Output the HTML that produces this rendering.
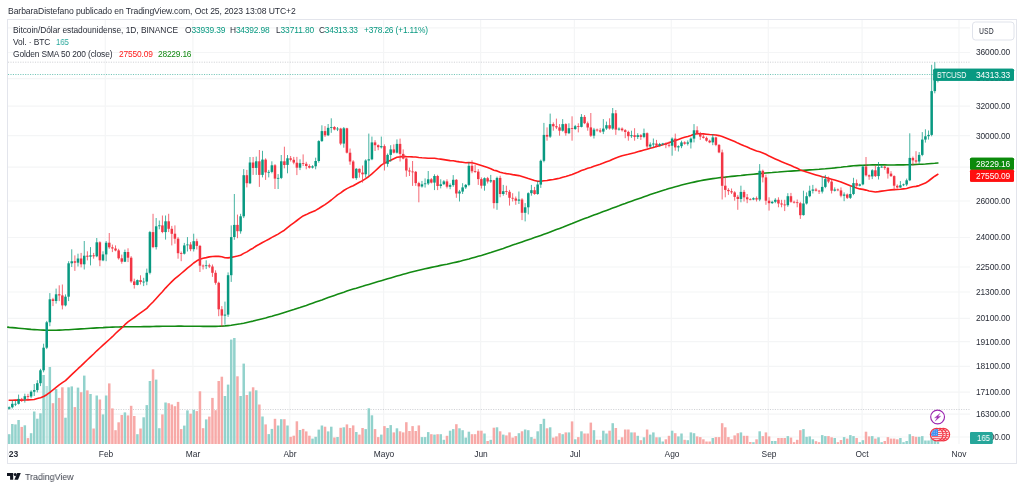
<!DOCTYPE html>
<html lang="es"><head><meta charset="utf-8"><title>BTCUSD chart</title>
<style>
html,body{margin:0;padding:0;background:#fff}
body{width:1024px;height:489px;position:relative;overflow:hidden;font-family:"Liberation Sans",sans-serif;color:#131722}
.t{position:absolute;white-space:pre;line-height:1;will-change:transform}
.ax{font-size:8.2px;color:#131722}
.w{color:#fff}
.g{color:#089981}
</style></head><body>
<svg width="1024" height="489" viewBox="0 0 1024 489" style="position:absolute;left:0;top:0">
<rect x="7.5" y="19.5" width="1009" height="444" fill="#fff" stroke="#e3e5ec" stroke-width="1"/>
<line x1="8" x2="970" y1="27.8" y2="27.8" stroke="#f4f5f6" stroke-width="1.2"/>
<line x1="8" x2="970" y1="52.5" y2="52.5" stroke="#f4f5f6" stroke-width="1.2"/>
<line x1="8" x2="970" y1="78.6" y2="78.6" stroke="#f4f5f6" stroke-width="1.2"/>
<line x1="8" x2="970" y1="106.2" y2="106.2" stroke="#f4f5f6" stroke-width="1.2"/>
<line x1="8" x2="970" y1="135.7" y2="135.7" stroke="#f4f5f6" stroke-width="1.2"/>
<line x1="8" x2="970" y1="167.2" y2="167.2" stroke="#f4f5f6" stroke-width="1.2"/>
<line x1="8" x2="970" y1="201.0" y2="201.0" stroke="#f4f5f6" stroke-width="1.2"/>
<line x1="8" x2="970" y1="237.5" y2="237.5" stroke="#f4f5f6" stroke-width="1.2"/>
<line x1="8" x2="970" y1="267.0" y2="267.0" stroke="#f4f5f6" stroke-width="1.2"/>
<line x1="8" x2="970" y1="292.0" y2="292.0" stroke="#f4f5f6" stroke-width="1.2"/>
<line x1="8" x2="970" y1="318.4" y2="318.4" stroke="#f4f5f6" stroke-width="1.2"/>
<line x1="8" x2="970" y1="341.7" y2="341.7" stroke="#f4f5f6" stroke-width="1.2"/>
<line x1="8" x2="970" y1="366.3" y2="366.3" stroke="#f4f5f6" stroke-width="1.2"/>
<line x1="8" x2="970" y1="392.2" y2="392.2" stroke="#f4f5f6" stroke-width="1.2"/>
<line x1="8" x2="970" y1="414.1" y2="414.1" stroke="#f4f5f6" stroke-width="1.2"/>
<line x1="8" x2="970" y1="437.0" y2="437.0" stroke="#f4f5f6" stroke-width="1.2"/>
<line x1="105.3" x2="105.3" y1="20" y2="444" stroke="#f4f5f6" stroke-width="1.2"/>
<line x1="192.9" x2="192.9" y1="20" y2="444" stroke="#f4f5f6" stroke-width="1.2"/>
<line x1="289.8" x2="289.8" y1="20" y2="444" stroke="#f4f5f6" stroke-width="1.2"/>
<line x1="383.6" x2="383.6" y1="20" y2="444" stroke="#f4f5f6" stroke-width="1.2"/>
<line x1="480.6" x2="480.6" y1="20" y2="444" stroke="#f4f5f6" stroke-width="1.2"/>
<line x1="574.4" x2="574.4" y1="20" y2="444" stroke="#f4f5f6" stroke-width="1.2"/>
<line x1="671.3" x2="671.3" y1="20" y2="444" stroke="#f4f5f6" stroke-width="1.2"/>
<line x1="768.3" x2="768.3" y1="20" y2="444" stroke="#f4f5f6" stroke-width="1.2"/>
<line x1="862.1" x2="862.1" y1="20" y2="444" stroke="#f4f5f6" stroke-width="1.2"/>
<line x1="959.0" x2="959.0" y1="20" y2="444" stroke="#f4f5f6" stroke-width="1.2"/>
<line x1="8" x2="970" y1="62.2" y2="62.2" stroke="#9598a1" stroke-width="0.8" stroke-dasharray="1.1 1.35" opacity="0.55"/>
<line x1="8" x2="970" y1="409.5" y2="409.5" stroke="#9598a1" stroke-width="0.8" stroke-dasharray="1.1 1.35" opacity="0.55"/>
<line x1="8" x2="970" y1="74.5" y2="74.5" stroke="#089981" stroke-width="0.8" stroke-dasharray="1.1 1.35" opacity="0.7"/>
<g>
<rect x="7.95" y="434.2" width="2.5" height="9.8" fill="#92d2cc"/>
<rect x="11.08" y="424.0" width="2.5" height="20.0" fill="#92d2cc"/>
<rect x="14.20" y="424.4" width="2.5" height="19.6" fill="#92d2cc"/>
<rect x="17.33" y="420.0" width="2.5" height="24.0" fill="#92d2cc"/>
<rect x="20.46" y="426.9" width="2.5" height="17.1" fill="#f7a9a7"/>
<rect x="23.58" y="425.3" width="2.5" height="18.7" fill="#92d2cc"/>
<rect x="26.71" y="438.1" width="2.5" height="5.9" fill="#f7a9a7"/>
<rect x="29.84" y="433.2" width="2.5" height="10.8" fill="#92d2cc"/>
<rect x="32.97" y="411.5" width="2.5" height="32.5" fill="#92d2cc"/>
<rect x="36.09" y="418.7" width="2.5" height="25.3" fill="#92d2cc"/>
<rect x="39.22" y="413.3" width="2.5" height="30.7" fill="#92d2cc"/>
<rect x="42.35" y="375.0" width="2.5" height="69.0" fill="#92d2cc"/>
<rect x="45.47" y="386.0" width="2.5" height="58.0" fill="#92d2cc" opacity="0.6"/>
<rect x="48.60" y="367.0" width="2.5" height="77.0" fill="#92d2cc"/>
<rect x="51.73" y="403.2" width="2.5" height="40.8" fill="#f7a9a7"/>
<rect x="54.85" y="389.1" width="2.5" height="54.9" fill="#92d2cc"/>
<rect x="57.98" y="397.9" width="2.5" height="46.1" fill="#f7a9a7"/>
<rect x="61.11" y="387.3" width="2.5" height="56.7" fill="#f7a9a7"/>
<rect x="64.24" y="417.7" width="2.5" height="26.3" fill="#92d2cc"/>
<rect x="67.36" y="387.3" width="2.5" height="56.7" fill="#92d2cc"/>
<rect x="70.49" y="386.4" width="2.5" height="57.6" fill="#92d2cc"/>
<rect x="73.62" y="407.1" width="2.5" height="36.9" fill="#f7a9a7"/>
<rect x="76.74" y="387.6" width="2.5" height="56.4" fill="#92d2cc"/>
<rect x="79.87" y="392.2" width="2.5" height="51.8" fill="#f7a9a7"/>
<rect x="83.00" y="375.6" width="2.5" height="68.4" fill="#92d2cc"/>
<rect x="86.12" y="390.4" width="2.5" height="53.6" fill="#f7a9a7"/>
<rect x="89.25" y="394.0" width="2.5" height="50.0" fill="#92d2cc"/>
<rect x="92.38" y="428.5" width="2.5" height="15.5" fill="#f7a9a7"/>
<rect x="95.51" y="395.5" width="2.5" height="48.5" fill="#92d2cc"/>
<rect x="98.63" y="399.5" width="2.5" height="44.5" fill="#f7a9a7"/>
<rect x="101.76" y="414.4" width="2.5" height="29.6" fill="#92d2cc"/>
<rect x="104.89" y="395.5" width="2.5" height="48.5" fill="#92d2cc"/>
<rect x="108.01" y="383.4" width="2.5" height="60.6" fill="#f7a9a7"/>
<rect x="111.14" y="408.4" width="2.5" height="35.6" fill="#f7a9a7"/>
<rect x="114.27" y="430.2" width="2.5" height="13.8" fill="#f7a9a7"/>
<rect x="117.39" y="422.3" width="2.5" height="21.7" fill="#f7a9a7"/>
<rect x="120.52" y="415.0" width="2.5" height="29.0" fill="#f7a9a7"/>
<rect x="123.65" y="412.4" width="2.5" height="31.6" fill="#92d2cc"/>
<rect x="126.78" y="415.4" width="2.5" height="28.6" fill="#f7a9a7"/>
<rect x="129.90" y="405.8" width="2.5" height="38.2" fill="#f7a9a7"/>
<rect x="133.03" y="416.0" width="2.5" height="28.0" fill="#f7a9a7"/>
<rect x="136.16" y="434.2" width="2.5" height="9.8" fill="#92d2cc"/>
<rect x="139.28" y="428.5" width="2.5" height="15.5" fill="#f7a9a7"/>
<rect x="142.41" y="417.3" width="2.5" height="26.7" fill="#92d2cc"/>
<rect x="145.54" y="405.1" width="2.5" height="38.9" fill="#92d2cc"/>
<rect x="148.66" y="381.0" width="2.5" height="63.0" fill="#92d2cc"/>
<rect x="151.79" y="369.3" width="2.5" height="74.7" fill="#f7a9a7"/>
<rect x="154.92" y="379.6" width="2.5" height="64.4" fill="#92d2cc"/>
<rect x="158.05" y="428.2" width="2.5" height="15.8" fill="#92d2cc"/>
<rect x="161.17" y="414.4" width="2.5" height="29.6" fill="#f7a9a7"/>
<rect x="164.30" y="402.5" width="2.5" height="41.5" fill="#92d2cc"/>
<rect x="167.43" y="403.2" width="2.5" height="40.8" fill="#f7a9a7"/>
<rect x="170.55" y="404.5" width="2.5" height="39.5" fill="#f7a9a7"/>
<rect x="173.68" y="406.2" width="2.5" height="37.8" fill="#f7a9a7"/>
<rect x="176.81" y="401.9" width="2.5" height="42.1" fill="#f7a9a7"/>
<rect x="179.93" y="429.1" width="2.5" height="14.9" fill="#f7a9a7"/>
<rect x="183.06" y="425.6" width="2.5" height="18.4" fill="#92d2cc"/>
<rect x="186.19" y="410.4" width="2.5" height="33.6" fill="#92d2cc"/>
<rect x="189.32" y="413.7" width="2.5" height="30.3" fill="#f7a9a7"/>
<rect x="192.44" y="409.8" width="2.5" height="34.2" fill="#92d2cc"/>
<rect x="195.57" y="411.1" width="2.5" height="32.9" fill="#f7a9a7"/>
<rect x="198.70" y="391.3" width="2.5" height="52.7" fill="#f7a9a7"/>
<rect x="201.82" y="428.2" width="2.5" height="15.8" fill="#f7a9a7"/>
<rect x="204.95" y="419.4" width="2.5" height="24.6" fill="#92d2cc"/>
<rect x="208.08" y="416.6" width="2.5" height="27.4" fill="#f7a9a7"/>
<rect x="211.20" y="397.9" width="2.5" height="46.1" fill="#f7a9a7"/>
<rect x="214.33" y="410.2" width="2.5" height="33.8" fill="#f7a9a7"/>
<rect x="217.46" y="381.0" width="2.5" height="63.0" fill="#f7a9a7"/>
<rect x="220.59" y="376.7" width="2.5" height="67.3" fill="#f7a9a7"/>
<rect x="223.71" y="396.0" width="2.5" height="48.0" fill="#92d2cc"/>
<rect x="226.84" y="384.6" width="2.5" height="59.4" fill="#92d2cc"/>
<rect x="229.97" y="339.6" width="2.5" height="104.4" fill="#92d2cc"/>
<rect x="233.09" y="338.0" width="2.5" height="106.0" fill="#92d2cc"/>
<rect x="236.22" y="376.3" width="2.5" height="67.7" fill="#f7a9a7"/>
<rect x="239.35" y="396.0" width="2.5" height="48.0" fill="#92d2cc"/>
<rect x="242.47" y="363.6" width="2.5" height="80.4" fill="#92d2cc"/>
<rect x="245.60" y="395.0" width="2.5" height="49.0" fill="#f7a9a7"/>
<rect x="248.73" y="391.5" width="2.5" height="52.5" fill="#92d2cc"/>
<rect x="251.86" y="387.3" width="2.5" height="56.7" fill="#f7a9a7"/>
<rect x="254.98" y="390.3" width="2.5" height="53.7" fill="#92d2cc"/>
<rect x="258.11" y="404.5" width="2.5" height="39.5" fill="#f7a9a7"/>
<rect x="261.24" y="416.5" width="2.5" height="27.5" fill="#92d2cc"/>
<rect x="264.36" y="424.4" width="2.5" height="19.6" fill="#f7a9a7"/>
<rect x="267.49" y="434.1" width="2.5" height="9.9" fill="#92d2cc"/>
<rect x="270.62" y="428.9" width="2.5" height="15.1" fill="#92d2cc"/>
<rect x="273.74" y="418.8" width="2.5" height="25.2" fill="#f7a9a7"/>
<rect x="276.87" y="425.5" width="2.5" height="18.5" fill="#92d2cc"/>
<rect x="280.00" y="419.2" width="2.5" height="24.8" fill="#92d2cc"/>
<rect x="283.13" y="419.2" width="2.5" height="24.8" fill="#f7a9a7"/>
<rect x="286.25" y="425.5" width="2.5" height="18.5" fill="#92d2cc"/>
<rect x="289.38" y="436.8" width="2.5" height="7.2" fill="#f7a9a7"/>
<rect x="292.51" y="435.7" width="2.5" height="8.3" fill="#f7a9a7"/>
<rect x="295.63" y="421.3" width="2.5" height="22.7" fill="#f7a9a7"/>
<rect x="298.76" y="430.0" width="2.5" height="14.0" fill="#92d2cc"/>
<rect x="301.89" y="428.9" width="2.5" height="15.1" fill="#f7a9a7"/>
<rect x="305.01" y="431.4" width="2.5" height="12.6" fill="#f7a9a7"/>
<rect x="308.14" y="435.7" width="2.5" height="8.3" fill="#f7a9a7"/>
<rect x="311.27" y="438.6" width="2.5" height="5.4" fill="#92d2cc"/>
<rect x="314.40" y="436.8" width="2.5" height="7.2" fill="#92d2cc"/>
<rect x="317.52" y="429.6" width="2.5" height="14.4" fill="#92d2cc"/>
<rect x="320.65" y="425.5" width="2.5" height="18.5" fill="#92d2cc"/>
<rect x="323.78" y="426.7" width="2.5" height="17.3" fill="#f7a9a7"/>
<rect x="326.90" y="431.4" width="2.5" height="12.6" fill="#92d2cc"/>
<rect x="330.03" y="426.7" width="2.5" height="17.3" fill="#92d2cc"/>
<rect x="333.16" y="437.5" width="2.5" height="6.5" fill="#f7a9a7"/>
<rect x="336.28" y="437.0" width="2.5" height="7.0" fill="#92d2cc"/>
<rect x="339.41" y="427.8" width="2.5" height="16.2" fill="#f7a9a7"/>
<rect x="342.54" y="427.3" width="2.5" height="16.7" fill="#92d2cc"/>
<rect x="345.67" y="424.4" width="2.5" height="19.6" fill="#f7a9a7"/>
<rect x="348.79" y="428.0" width="2.5" height="16.0" fill="#f7a9a7"/>
<rect x="351.92" y="425.4" width="2.5" height="18.6" fill="#f7a9a7"/>
<rect x="355.05" y="432.0" width="2.5" height="12.0" fill="#92d2cc"/>
<rect x="358.17" y="434.6" width="2.5" height="9.4" fill="#f7a9a7"/>
<rect x="361.30" y="428.0" width="2.5" height="16.0" fill="#f7a9a7"/>
<rect x="364.43" y="429.1" width="2.5" height="14.9" fill="#92d2cc"/>
<rect x="367.55" y="408.3" width="2.5" height="35.7" fill="#92d2cc"/>
<rect x="370.68" y="415.3" width="2.5" height="28.7" fill="#92d2cc"/>
<rect x="373.81" y="429.1" width="2.5" height="14.9" fill="#f7a9a7"/>
<rect x="376.94" y="437.1" width="2.5" height="6.9" fill="#f7a9a7"/>
<rect x="380.06" y="434.6" width="2.5" height="9.4" fill="#92d2cc"/>
<rect x="383.19" y="426.1" width="2.5" height="17.9" fill="#f7a9a7"/>
<rect x="386.32" y="428.0" width="2.5" height="16.0" fill="#92d2cc"/>
<rect x="389.44" y="425.1" width="2.5" height="18.9" fill="#92d2cc"/>
<rect x="392.57" y="432.4" width="2.5" height="11.6" fill="#f7a9a7"/>
<rect x="395.70" y="428.3" width="2.5" height="15.7" fill="#92d2cc"/>
<rect x="398.82" y="431.3" width="2.5" height="12.7" fill="#f7a9a7"/>
<rect x="401.95" y="432.4" width="2.5" height="11.6" fill="#f7a9a7"/>
<rect x="405.08" y="422.2" width="2.5" height="21.8" fill="#f7a9a7"/>
<rect x="408.21" y="431.0" width="2.5" height="13.0" fill="#f7a9a7"/>
<rect x="411.33" y="426.1" width="2.5" height="17.9" fill="#f7a9a7"/>
<rect x="414.46" y="431.0" width="2.5" height="13.0" fill="#f7a9a7"/>
<rect x="417.59" y="425.4" width="2.5" height="18.6" fill="#f7a9a7"/>
<rect x="420.71" y="437.1" width="2.5" height="6.9" fill="#92d2cc"/>
<rect x="423.84" y="437.1" width="2.5" height="6.9" fill="#92d2cc"/>
<rect x="426.97" y="432.1" width="2.5" height="11.9" fill="#92d2cc"/>
<rect x="430.09" y="434.2" width="2.5" height="9.8" fill="#f7a9a7"/>
<rect x="433.22" y="434.6" width="2.5" height="9.4" fill="#92d2cc"/>
<rect x="436.35" y="434.2" width="2.5" height="9.8" fill="#f7a9a7"/>
<rect x="439.48" y="434.2" width="2.5" height="9.8" fill="#92d2cc"/>
<rect x="442.60" y="439.8" width="2.5" height="4.2" fill="#92d2cc"/>
<rect x="445.73" y="435.8" width="2.5" height="8.2" fill="#f7a9a7"/>
<rect x="448.86" y="430.7" width="2.5" height="13.3" fill="#92d2cc"/>
<rect x="451.98" y="429.1" width="2.5" height="14.9" fill="#92d2cc"/>
<rect x="455.11" y="424.2" width="2.5" height="19.8" fill="#f7a9a7"/>
<rect x="458.24" y="428.3" width="2.5" height="15.7" fill="#92d2cc"/>
<rect x="461.36" y="430.2" width="2.5" height="13.8" fill="#92d2cc"/>
<rect x="464.49" y="437.6" width="2.5" height="6.4" fill="#92d2cc"/>
<rect x="467.62" y="431.7" width="2.5" height="12.3" fill="#92d2cc"/>
<rect x="470.75" y="434.2" width="2.5" height="9.8" fill="#f7a9a7"/>
<rect x="473.87" y="434.2" width="2.5" height="9.8" fill="#f7a9a7"/>
<rect x="477.00" y="430.7" width="2.5" height="13.3" fill="#f7a9a7"/>
<rect x="480.13" y="430.7" width="2.5" height="13.3" fill="#f7a9a7"/>
<rect x="483.25" y="433.5" width="2.5" height="10.5" fill="#92d2cc"/>
<rect x="486.38" y="441.0" width="2.5" height="3.0" fill="#f7a9a7"/>
<rect x="489.51" y="439.8" width="2.5" height="4.2" fill="#92d2cc"/>
<rect x="492.63" y="427.7" width="2.5" height="16.3" fill="#f7a9a7"/>
<rect x="495.76" y="427.3" width="2.5" height="16.7" fill="#92d2cc"/>
<rect x="498.89" y="431.3" width="2.5" height="12.7" fill="#f7a9a7"/>
<rect x="502.02" y="434.6" width="2.5" height="9.4" fill="#92d2cc"/>
<rect x="505.14" y="435.4" width="2.5" height="8.6" fill="#f7a9a7"/>
<rect x="508.27" y="432.4" width="2.5" height="11.6" fill="#f7a9a7"/>
<rect x="511.40" y="437.6" width="2.5" height="6.4" fill="#f7a9a7"/>
<rect x="514.52" y="436.1" width="2.5" height="7.9" fill="#f7a9a7"/>
<rect x="517.65" y="433.2" width="2.5" height="10.8" fill="#92d2cc"/>
<rect x="520.78" y="431.3" width="2.5" height="12.7" fill="#f7a9a7"/>
<rect x="523.90" y="429.5" width="2.5" height="14.5" fill="#92d2cc"/>
<rect x="527.03" y="430.2" width="2.5" height="13.8" fill="#92d2cc"/>
<rect x="530.16" y="437.1" width="2.5" height="6.9" fill="#92d2cc"/>
<rect x="533.29" y="438.7" width="2.5" height="5.3" fill="#f7a9a7"/>
<rect x="536.41" y="431.3" width="2.5" height="12.7" fill="#92d2cc"/>
<rect x="539.54" y="424.0" width="2.5" height="20.0" fill="#92d2cc"/>
<rect x="542.67" y="418.8" width="2.5" height="25.2" fill="#92d2cc"/>
<rect x="545.79" y="428.3" width="2.5" height="15.7" fill="#f7a9a7"/>
<rect x="548.92" y="427.3" width="2.5" height="16.7" fill="#92d2cc"/>
<rect x="552.05" y="437.6" width="2.5" height="6.4" fill="#f7a9a7"/>
<rect x="555.17" y="436.4" width="2.5" height="7.6" fill="#f7a9a7"/>
<rect x="558.30" y="433.2" width="2.5" height="10.8" fill="#f7a9a7"/>
<rect x="561.43" y="434.2" width="2.5" height="9.8" fill="#92d2cc"/>
<rect x="564.56" y="432.4" width="2.5" height="11.6" fill="#f7a9a7"/>
<rect x="567.68" y="432.4" width="2.5" height="11.6" fill="#92d2cc"/>
<rect x="570.81" y="421.4" width="2.5" height="22.6" fill="#f7a9a7"/>
<rect x="573.94" y="439.3" width="2.5" height="4.7" fill="#92d2cc"/>
<rect x="577.06" y="437.1" width="2.5" height="6.9" fill="#f7a9a7"/>
<rect x="580.19" y="431.3" width="2.5" height="12.7" fill="#92d2cc"/>
<rect x="583.32" y="433.5" width="2.5" height="10.5" fill="#f7a9a7"/>
<rect x="586.45" y="433.5" width="2.5" height="10.5" fill="#f7a9a7"/>
<rect x="589.57" y="422.6" width="2.5" height="21.4" fill="#f7a9a7"/>
<rect x="592.70" y="430.2" width="2.5" height="13.8" fill="#92d2cc"/>
<rect x="595.83" y="439.8" width="2.5" height="4.2" fill="#f7a9a7"/>
<rect x="598.95" y="439.8" width="2.5" height="4.2" fill="#f7a9a7"/>
<rect x="602.08" y="430.7" width="2.5" height="13.3" fill="#92d2cc"/>
<rect x="605.21" y="433.5" width="2.5" height="10.5" fill="#92d2cc"/>
<rect x="608.33" y="430.7" width="2.5" height="13.3" fill="#f7a9a7"/>
<rect x="611.46" y="423.2" width="2.5" height="20.8" fill="#92d2cc"/>
<rect x="614.59" y="428.0" width="2.5" height="16.0" fill="#f7a9a7"/>
<rect x="617.72" y="439.8" width="2.5" height="4.2" fill="#92d2cc"/>
<rect x="620.84" y="437.3" width="2.5" height="6.7" fill="#f7a9a7"/>
<rect x="623.97" y="429.5" width="2.5" height="14.5" fill="#f7a9a7"/>
<rect x="627.10" y="429.5" width="2.5" height="14.5" fill="#f7a9a7"/>
<rect x="630.22" y="432.4" width="2.5" height="11.6" fill="#92d2cc"/>
<rect x="633.35" y="432.4" width="2.5" height="11.6" fill="#f7a9a7"/>
<rect x="636.48" y="435.8" width="2.5" height="8.2" fill="#92d2cc"/>
<rect x="639.60" y="440.2" width="2.5" height="3.8" fill="#f7a9a7"/>
<rect x="642.73" y="437.3" width="2.5" height="6.7" fill="#92d2cc"/>
<rect x="645.86" y="429.5" width="2.5" height="14.5" fill="#f7a9a7"/>
<rect x="648.99" y="434.6" width="2.5" height="9.4" fill="#92d2cc"/>
<rect x="652.11" y="432.4" width="2.5" height="11.6" fill="#92d2cc"/>
<rect x="655.24" y="437.3" width="2.5" height="6.7" fill="#f7a9a7"/>
<rect x="658.37" y="437.3" width="2.5" height="6.7" fill="#92d2cc"/>
<rect x="661.49" y="441.5" width="2.5" height="2.5" fill="#92d2cc"/>
<rect x="664.62" y="439.3" width="2.5" height="4.7" fill="#f7a9a7"/>
<rect x="667.75" y="435.8" width="2.5" height="8.2" fill="#f7a9a7"/>
<rect x="670.87" y="430.7" width="2.5" height="13.3" fill="#92d2cc"/>
<rect x="674.00" y="433.2" width="2.5" height="10.8" fill="#f7a9a7"/>
<rect x="677.13" y="436.4" width="2.5" height="7.6" fill="#92d2cc"/>
<rect x="680.25" y="433.5" width="2.5" height="10.5" fill="#92d2cc"/>
<rect x="683.38" y="439.8" width="2.5" height="4.2" fill="#f7a9a7"/>
<rect x="686.51" y="440.2" width="2.5" height="3.8" fill="#92d2cc"/>
<rect x="689.64" y="432.4" width="2.5" height="11.6" fill="#92d2cc"/>
<rect x="692.76" y="433.2" width="2.5" height="10.8" fill="#92d2cc"/>
<rect x="695.89" y="436.4" width="2.5" height="7.6" fill="#f7a9a7"/>
<rect x="699.02" y="437.1" width="2.5" height="6.9" fill="#f7a9a7"/>
<rect x="702.14" y="439.3" width="2.5" height="4.7" fill="#f7a9a7"/>
<rect x="705.27" y="441.5" width="2.5" height="2.5" fill="#f7a9a7"/>
<rect x="708.40" y="441.5" width="2.5" height="2.5" fill="#f7a9a7"/>
<rect x="711.52" y="438.0" width="2.5" height="6.0" fill="#92d2cc"/>
<rect x="714.65" y="437.1" width="2.5" height="6.9" fill="#f7a9a7"/>
<rect x="717.78" y="437.1" width="2.5" height="6.9" fill="#f7a9a7"/>
<rect x="720.91" y="423.2" width="2.5" height="20.8" fill="#f7a9a7"/>
<rect x="724.03" y="427.3" width="2.5" height="16.7" fill="#f7a9a7"/>
<rect x="727.16" y="437.1" width="2.5" height="6.9" fill="#f7a9a7"/>
<rect x="730.29" y="439.3" width="2.5" height="4.7" fill="#f7a9a7"/>
<rect x="733.41" y="435.4" width="2.5" height="8.6" fill="#f7a9a7"/>
<rect x="736.54" y="433.2" width="2.5" height="10.8" fill="#f7a9a7"/>
<rect x="739.67" y="432.4" width="2.5" height="11.6" fill="#92d2cc"/>
<rect x="742.79" y="435.8" width="2.5" height="8.2" fill="#f7a9a7"/>
<rect x="745.92" y="435.8" width="2.5" height="8.2" fill="#f7a9a7"/>
<rect x="749.05" y="442.0" width="2.5" height="2.0" fill="#f7a9a7"/>
<rect x="752.18" y="442.2" width="2.5" height="1.8" fill="#92d2cc"/>
<rect x="755.30" y="439.3" width="2.5" height="4.7" fill="#f7a9a7"/>
<rect x="758.43" y="431.3" width="2.5" height="12.7" fill="#92d2cc"/>
<rect x="761.56" y="436.1" width="2.5" height="7.9" fill="#f7a9a7"/>
<rect x="764.68" y="432.4" width="2.5" height="11.6" fill="#f7a9a7"/>
<rect x="767.81" y="436.4" width="2.5" height="7.6" fill="#f7a9a7"/>
<rect x="770.94" y="441.0" width="2.5" height="3.0" fill="#92d2cc"/>
<rect x="774.06" y="441.0" width="2.5" height="3.0" fill="#92d2cc"/>
<rect x="777.19" y="438.0" width="2.5" height="6.0" fill="#f7a9a7"/>
<rect x="780.32" y="438.0" width="2.5" height="6.0" fill="#f7a9a7"/>
<rect x="783.45" y="438.0" width="2.5" height="6.0" fill="#f7a9a7"/>
<rect x="786.57" y="436.1" width="2.5" height="7.9" fill="#92d2cc"/>
<rect x="789.70" y="437.6" width="2.5" height="6.4" fill="#f7a9a7"/>
<rect x="792.83" y="442.2" width="2.5" height="1.8" fill="#f7a9a7"/>
<rect x="795.95" y="439.8" width="2.5" height="4.2" fill="#f7a9a7"/>
<rect x="799.08" y="430.2" width="2.5" height="13.8" fill="#f7a9a7"/>
<rect x="802.21" y="429.1" width="2.5" height="14.9" fill="#92d2cc"/>
<rect x="805.34" y="436.8" width="2.5" height="7.2" fill="#92d2cc"/>
<rect x="808.46" y="436.4" width="2.5" height="7.6" fill="#92d2cc"/>
<rect x="811.59" y="439.3" width="2.5" height="4.7" fill="#92d2cc"/>
<rect x="814.72" y="441.2" width="2.5" height="2.8" fill="#f7a9a7"/>
<rect x="817.84" y="442.2" width="2.5" height="1.8" fill="#f7a9a7"/>
<rect x="820.97" y="435.1" width="2.5" height="8.9" fill="#92d2cc"/>
<rect x="824.10" y="436.1" width="2.5" height="7.9" fill="#92d2cc"/>
<rect x="827.22" y="436.1" width="2.5" height="7.9" fill="#f7a9a7"/>
<rect x="830.35" y="437.3" width="2.5" height="6.7" fill="#f7a9a7"/>
<rect x="833.48" y="438.0" width="2.5" height="6.0" fill="#92d2cc"/>
<rect x="836.61" y="442.2" width="2.5" height="1.8" fill="#f7a9a7"/>
<rect x="839.73" y="440.0" width="2.5" height="4.0" fill="#f7a9a7"/>
<rect x="842.86" y="437.1" width="2.5" height="6.9" fill="#92d2cc"/>
<rect x="845.99" y="438.6" width="2.5" height="5.4" fill="#f7a9a7"/>
<rect x="849.11" y="435.1" width="2.5" height="8.9" fill="#92d2cc"/>
<rect x="852.24" y="436.1" width="2.5" height="7.9" fill="#92d2cc"/>
<rect x="855.37" y="438.0" width="2.5" height="6.0" fill="#f7a9a7"/>
<rect x="858.49" y="442.2" width="2.5" height="1.8" fill="#92d2cc"/>
<rect x="861.62" y="440.2" width="2.5" height="3.8" fill="#92d2cc"/>
<rect x="864.75" y="431.7" width="2.5" height="12.3" fill="#f7a9a7"/>
<rect x="867.88" y="436.4" width="2.5" height="7.6" fill="#f7a9a7"/>
<rect x="871.00" y="436.1" width="2.5" height="7.9" fill="#92d2cc"/>
<rect x="874.13" y="438.6" width="2.5" height="5.4" fill="#f7a9a7"/>
<rect x="877.26" y="437.3" width="2.5" height="6.7" fill="#92d2cc"/>
<rect x="880.38" y="442.2" width="2.5" height="1.8" fill="#92d2cc"/>
<rect x="883.51" y="441.0" width="2.5" height="3.0" fill="#f7a9a7"/>
<rect x="886.64" y="437.1" width="2.5" height="6.9" fill="#f7a9a7"/>
<rect x="889.76" y="438.6" width="2.5" height="5.4" fill="#f7a9a7"/>
<rect x="892.89" y="438.6" width="2.5" height="5.4" fill="#f7a9a7"/>
<rect x="896.02" y="439.3" width="2.5" height="4.7" fill="#f7a9a7"/>
<rect x="899.14" y="438.0" width="2.5" height="6.0" fill="#92d2cc"/>
<rect x="902.27" y="442.2" width="2.5" height="1.8" fill="#92d2cc"/>
<rect x="905.40" y="441.0" width="2.5" height="3.0" fill="#92d2cc"/>
<rect x="908.53" y="434.2" width="2.5" height="9.8" fill="#92d2cc"/>
<rect x="911.65" y="436.1" width="2.5" height="7.9" fill="#f7a9a7"/>
<rect x="914.78" y="436.8" width="2.5" height="7.2" fill="#f7a9a7"/>
<rect x="917.91" y="436.8" width="2.5" height="7.2" fill="#92d2cc"/>
<rect x="921.03" y="436.1" width="2.5" height="7.9" fill="#92d2cc"/>
<rect x="924.16" y="440.5" width="2.5" height="3.5" fill="#92d2cc"/>
<rect x="927.29" y="440.5" width="2.5" height="3.5" fill="#92d2cc"/>
<rect x="930.41" y="435.0" width="2.5" height="9.0" fill="#92d2cc"/>
<rect x="933.54" y="436.0" width="2.5" height="8.0" fill="#92d2cc"/>
<rect x="936.67" y="441.5" width="2.5" height="2.5" fill="#92d2cc"/>
</g>
<polyline points="7.8,327.1 9.2,327.4 12.3,327.6 15.5,327.9 18.6,328.2 21.7,328.5 24.8,328.8 28.0,329.1 31.1,329.4 34.2,329.6 37.3,329.8 40.5,330.0 43.6,330.1 46.7,330.2 49.9,330.2 53.0,330.2 56.1,330.2 59.2,330.1 62.4,330.0 65.5,329.8 68.6,329.7 71.7,329.5 74.9,329.3 78.0,329.1 81.1,328.9 84.2,328.7 87.4,328.5 90.5,328.3 93.6,328.1 96.8,327.9 99.9,327.7 103.0,327.6 106.1,327.4 109.3,327.3 112.4,327.1 115.5,327.0 118.6,327.0 121.8,326.9 124.9,326.8 128.0,326.8 131.2,326.7 134.3,326.7 137.4,326.7 140.5,326.7 143.7,326.6 146.8,326.6 149.9,326.6 153.0,326.5 156.2,326.4 159.3,326.4 162.4,326.3 165.5,326.3 168.7,326.2 171.8,326.2 174.9,326.2 178.1,326.1 181.2,326.1 184.3,326.2 187.4,326.2 190.6,326.2 193.7,326.3 196.8,326.3 199.9,326.3 203.1,326.4 206.2,326.4 209.3,326.4 212.5,326.4 215.6,326.4 218.7,326.3 221.8,326.1 225.0,325.9 228.1,325.6 231.2,325.3 234.3,324.8 237.5,324.3 240.6,323.8 243.7,323.2 246.9,322.5 250.0,321.8 253.1,321.1 256.2,320.3 259.4,319.5 262.5,318.7 265.6,317.9 268.7,317.0 271.9,316.2 275.0,315.3 278.1,314.4 281.2,313.5 284.4,312.5 287.5,311.5 290.6,310.6 293.8,309.6 296.9,308.5 300.0,307.5 303.1,306.4 306.3,305.4 309.4,304.3 312.5,303.2 315.6,302.1 318.8,301.0 321.9,299.9 325.0,298.7 328.2,297.6 331.3,296.5 334.4,295.4 337.5,294.3 340.7,293.2 343.8,292.2 346.9,291.1 350.0,290.1 353.2,289.1 356.3,288.2 359.4,287.2 362.6,286.3 365.7,285.3 368.8,284.4 371.9,283.5 375.1,282.5 378.2,281.6 381.3,280.7 384.4,279.8 387.6,278.8 390.7,277.9 393.8,277.0 396.9,276.1 400.1,275.2 403.2,274.3 406.3,273.5 409.5,272.6 412.6,271.8 415.7,271.0 418.8,270.2 422.0,269.5 425.1,268.8 428.2,268.1 431.3,267.4 434.5,266.7 437.6,266.1 440.7,265.4 443.9,264.8 447.0,264.2 450.1,263.5 453.2,262.8 456.4,262.1 459.5,261.4 462.6,260.6 465.7,259.8 468.9,259.0 472.0,258.1 475.1,257.2 478.2,256.3 481.4,255.4 484.5,254.4 487.6,253.4 490.8,252.5 493.9,251.4 497.0,250.4 500.1,249.4 503.3,248.4 506.4,247.3 509.5,246.2 512.6,245.1 515.8,244.1 518.9,243.0 522.0,241.9 525.2,240.8 528.3,239.7 531.4,238.7 534.5,237.6 537.7,236.5 540.8,235.4 543.9,234.3 547.0,233.2 550.2,232.0 553.3,230.8 556.4,229.6 559.6,228.4 562.7,227.2 565.8,225.9 568.9,224.7 572.1,223.5 575.2,222.2 578.3,221.0 581.4,219.8 584.6,218.6 587.7,217.5 590.8,216.3 593.9,215.1 597.1,213.9 600.2,212.8 603.3,211.6 606.5,210.4 609.6,209.3 612.7,208.1 615.8,206.9 619.0,205.8 622.1,204.6 625.2,203.5 628.3,202.3 631.5,201.2 634.6,200.1 637.7,199.0 640.9,197.9 644.0,196.8 647.1,195.7 650.2,194.6 653.4,193.6 656.5,192.6 659.6,191.5 662.7,190.5 665.9,189.6 669.0,188.6 672.1,187.7 675.3,186.8 678.4,185.9 681.5,185.1 684.6,184.3 687.8,183.5 690.9,182.8 694.0,182.1 697.1,181.4 700.3,180.7 703.4,180.1 706.5,179.6 709.6,179.1 712.8,178.6 715.9,178.2 719.0,177.8 722.2,177.4 725.3,177.1 728.4,176.7 731.5,176.4 734.7,176.1 737.8,175.8 740.9,175.5 744.0,175.1 747.2,174.8 750.3,174.5 753.4,174.2 756.6,173.9 759.7,173.6 762.8,173.3 765.9,173.0 769.1,172.7 772.2,172.5 775.3,172.2 778.4,172.0 781.6,171.7 784.7,171.5 787.8,171.3 791.0,171.1 794.1,170.9 797.2,170.7 800.3,170.5 803.5,170.3 806.6,170.1 809.7,169.9 812.8,169.7 816.0,169.5 819.1,169.3 822.2,169.0 825.3,168.8 828.5,168.5 831.6,168.2 834.7,167.9 837.9,167.5 841.0,167.2 844.1,166.8 847.2,166.5 850.4,166.1 853.5,165.8 856.6,165.6 859.7,165.4 862.9,165.2 866.0,165.1 869.1,165.0 872.3,164.9 875.4,164.9 878.5,164.9 881.6,164.9 884.8,164.9 887.9,165.0 891.0,165.0 894.1,165.0 897.3,164.9 900.4,164.9 903.5,164.9 906.6,164.8 909.8,164.7 912.9,164.6 916.0,164.5 919.2,164.3 922.3,164.2 925.4,164.0 928.5,163.7 931.7,163.5 934.8,163.3 937.9,163.0" fill="none" stroke="#138a13" stroke-width="1.6" stroke-linejoin="round" stroke-linecap="round"/>
<polyline points="9.2,400.3 12.3,400.2 15.5,400.1 18.6,400.1 21.7,400.1 24.8,400.0 28.0,399.9 31.1,399.8 34.2,399.5 37.3,398.6 40.5,397.7 43.6,396.5 46.7,394.7 49.9,392.3 53.0,389.9 56.1,387.4 59.2,384.8 62.4,382.6 65.5,380.6 68.6,377.6 71.7,374.7 74.9,371.7 78.0,368.7 81.1,365.9 84.2,362.9 87.4,359.8 90.5,356.9 93.6,354.0 96.8,350.8 99.9,348.0 103.0,345.1 106.1,342.3 109.3,339.5 112.4,336.7 115.5,333.5 118.6,330.6 121.8,327.8 124.9,324.7 128.0,321.9 131.2,319.6 134.3,317.5 137.4,315.2 140.5,312.9 143.7,310.7 146.8,308.4 149.9,305.0 153.0,302.0 156.2,298.5 159.3,295.0 162.4,291.7 165.5,288.1 168.7,284.8 171.8,281.6 174.9,278.7 178.1,276.1 181.2,273.5 184.3,270.8 187.4,268.1 190.6,265.6 193.7,263.0 196.8,260.8 199.9,259.3 203.1,258.2 206.2,257.6 209.3,256.9 212.5,256.5 215.6,256.3 218.7,256.4 221.8,256.7 225.0,257.7 228.1,257.9 231.2,257.4 234.3,256.7 237.5,256.0 240.6,255.2 243.7,253.4 246.9,251.9 250.0,249.8 253.1,248.2 256.2,246.0 259.4,244.3 262.5,242.5 265.6,240.9 268.7,239.3 271.9,237.4 275.0,235.8 278.1,234.1 281.2,232.1 284.4,230.2 287.5,227.7 290.6,225.1 293.8,222.8 296.9,220.5 300.0,218.1 303.1,215.9 306.3,214.6 309.4,213.0 312.5,211.7 315.6,210.4 318.8,208.5 321.9,206.5 325.0,204.6 328.2,202.3 331.3,200.0 334.4,197.5 337.5,194.9 340.7,192.9 343.8,190.5 346.9,188.6 350.0,187.1 353.2,185.8 356.3,184.0 359.4,182.3 362.6,180.6 365.7,178.6 368.8,176.5 371.9,173.9 375.1,171.0 378.2,168.1 381.3,165.1 384.4,163.1 387.6,161.6 390.7,160.2 393.8,158.7 396.9,157.3 400.1,156.9 403.2,156.4 406.3,156.6 409.5,156.7 412.6,156.9 415.7,157.0 418.8,157.5 422.0,157.8 425.1,158.0 428.2,158.3 431.3,158.3 434.5,158.3 437.6,158.8 440.7,159.1 443.9,159.6 447.0,160.1 450.1,160.6 453.2,160.8 456.4,161.4 459.5,161.9 462.6,162.3 465.7,162.7 468.9,162.6 472.0,162.8 475.1,163.5 478.2,164.4 481.4,165.5 484.5,166.5 487.6,167.6 490.8,168.7 493.9,170.2 497.0,170.9 500.1,172.2 503.3,173.0 506.4,173.6 509.5,174.0 512.6,174.6 515.8,175.1 518.9,175.6 522.0,176.6 525.2,177.6 528.3,178.6 531.4,179.5 534.5,180.5 537.7,181.3 540.8,181.2 543.9,180.8 547.0,180.5 550.2,179.9 553.3,179.5 556.4,178.9 559.6,178.3 562.7,177.3 565.8,176.5 568.9,175.6 572.1,174.5 575.2,173.2 578.3,172.0 581.4,170.6 584.6,169.5 587.7,168.3 590.8,167.5 593.9,166.3 597.1,165.2 600.2,164.2 603.3,163.1 606.5,161.8 609.6,160.8 612.7,159.2 615.8,157.9 619.0,156.8 622.1,155.7 625.2,155.0 628.3,154.3 631.5,153.5 634.6,152.7 637.7,151.7 640.9,150.9 644.0,150.0 647.1,149.3 650.2,148.2 653.4,147.5 656.5,146.6 659.6,145.7 662.7,144.8 665.9,143.8 669.0,142.8 672.1,141.6 675.3,140.6 678.4,139.4 681.5,138.2 684.6,137.3 687.8,136.4 690.9,135.4 694.0,134.3 697.1,133.8 700.3,133.8 703.4,133.9 706.5,134.2 709.6,134.5 712.8,134.7 715.9,135.0 719.0,135.6 722.2,136.6 725.3,137.7 728.4,138.9 731.5,140.2 734.7,141.5 737.8,143.1 740.9,144.4 744.0,145.8 747.2,147.0 750.3,148.4 753.4,149.7 756.6,151.0 759.7,151.8 762.8,152.9 765.9,154.3 769.1,156.1 772.2,157.5 775.3,158.9 778.4,160.3 781.6,161.8 784.7,163.1 787.8,164.3 791.0,165.6 794.1,167.0 797.2,168.3 800.3,169.9 803.5,171.0 806.6,172.1 809.7,173.0 812.8,173.9 816.0,174.9 819.1,175.8 822.2,176.7 825.3,177.4 828.5,178.3 831.6,179.2 834.7,180.1 837.9,181.1 841.0,182.1 844.1,183.2 847.2,184.4 850.4,185.8 853.5,186.8 856.6,187.9 859.7,188.9 862.9,189.4 866.0,190.1 869.1,191.0 872.3,191.5 875.4,192.0 878.5,191.6 881.6,191.1 884.8,190.7 887.9,190.3 891.0,189.9 894.1,189.6 897.3,189.5 900.4,189.3 903.5,188.9 906.6,188.5 909.8,187.6 912.9,186.8 916.0,186.4 919.2,185.6 922.3,184.3 925.4,183.1 928.5,181.0 931.7,178.5 934.8,176.2 937.9,174.3" fill="none" stroke="#ff1a1a" stroke-width="1.6" stroke-linejoin="round" stroke-linecap="round"/>
<g>
<line x1="9.20" x2="9.20" y1="406.4" y2="409.6" stroke="#089981" stroke-width="0.75"/>
<rect x="7.95" y="407.3" width="2.5" height="1.4" fill="#089981"/>
<line x1="12.33" x2="12.33" y1="400.5" y2="408.5" stroke="#089981" stroke-width="0.75"/>
<rect x="11.08" y="403.8" width="2.5" height="3.5" fill="#089981"/>
<line x1="15.45" x2="15.45" y1="400.9" y2="406.1" stroke="#089981" stroke-width="0.75"/>
<rect x="14.20" y="403.8" width="2.5" height="0.8" fill="#089981"/>
<line x1="18.58" x2="18.58" y1="394.6" y2="404.5" stroke="#089981" stroke-width="0.75"/>
<rect x="17.33" y="398.9" width="2.5" height="4.9" fill="#089981"/>
<line x1="21.71" x2="21.71" y1="397.9" y2="402.0" stroke="#f23645" stroke-width="0.75"/>
<rect x="20.46" y="398.9" width="2.5" height="0.8" fill="#f23645"/>
<line x1="24.83" x2="24.83" y1="393.7" y2="402.6" stroke="#089981" stroke-width="0.75"/>
<rect x="23.58" y="396.2" width="2.5" height="3.2" fill="#089981"/>
<line x1="27.96" x2="27.96" y1="393.8" y2="400.4" stroke="#f23645" stroke-width="0.75"/>
<rect x="26.71" y="396.2" width="2.5" height="0.8" fill="#f23645"/>
<line x1="31.09" x2="31.09" y1="390.3" y2="398.2" stroke="#089981" stroke-width="0.75"/>
<rect x="29.84" y="391.7" width="2.5" height="4.8" fill="#089981"/>
<line x1="34.22" x2="34.22" y1="384.0" y2="396.0" stroke="#089981" stroke-width="0.75"/>
<rect x="32.97" y="390.1" width="2.5" height="1.6" fill="#089981"/>
<line x1="37.34" x2="37.34" y1="380.2" y2="392.4" stroke="#089981" stroke-width="0.75"/>
<rect x="36.09" y="383.2" width="2.5" height="6.9" fill="#089981"/>
<line x1="40.47" x2="40.47" y1="368.8" y2="386.1" stroke="#089981" stroke-width="0.75"/>
<rect x="39.22" y="370.3" width="2.5" height="12.9" fill="#089981"/>
<line x1="43.60" x2="43.60" y1="343.7" y2="372.3" stroke="#089981" stroke-width="0.75"/>
<rect x="42.35" y="347.7" width="2.5" height="22.6" fill="#089981"/>
<line x1="46.72" x2="46.72" y1="320.9" y2="349.1" stroke="#089981" stroke-width="0.75"/>
<rect x="45.47" y="322.3" width="2.5" height="25.4" fill="#089981"/>
<line x1="49.85" x2="49.85" y1="293.1" y2="326.2" stroke="#089981" stroke-width="0.75"/>
<rect x="48.60" y="299.3" width="2.5" height="23.0" fill="#089981"/>
<line x1="52.98" x2="52.98" y1="297.8" y2="306.1" stroke="#f23645" stroke-width="0.75"/>
<rect x="51.73" y="299.3" width="2.5" height="1.7" fill="#f23645"/>
<line x1="56.10" x2="56.10" y1="288.6" y2="303.6" stroke="#089981" stroke-width="0.75"/>
<rect x="54.85" y="294.3" width="2.5" height="6.7" fill="#089981"/>
<line x1="59.23" x2="59.23" y1="285.3" y2="301.1" stroke="#f23645" stroke-width="0.75"/>
<rect x="57.98" y="294.3" width="2.5" height="1.1" fill="#f23645"/>
<line x1="62.36" x2="62.36" y1="284.5" y2="309.4" stroke="#f23645" stroke-width="0.75"/>
<rect x="61.11" y="295.4" width="2.5" height="10.0" fill="#f23645"/>
<line x1="65.49" x2="65.49" y1="294.4" y2="306.4" stroke="#089981" stroke-width="0.75"/>
<rect x="64.24" y="296.7" width="2.5" height="8.7" fill="#089981"/>
<line x1="68.61" x2="68.61" y1="261.2" y2="301.1" stroke="#089981" stroke-width="0.75"/>
<rect x="67.36" y="263.3" width="2.5" height="33.4" fill="#089981"/>
<line x1="71.74" x2="71.74" y1="249.3" y2="267.0" stroke="#089981" stroke-width="0.75"/>
<rect x="70.49" y="261.3" width="2.5" height="2.0" fill="#089981"/>
<line x1="74.87" x2="74.87" y1="255.4" y2="270.9" stroke="#f23645" stroke-width="0.75"/>
<rect x="73.62" y="261.3" width="2.5" height="1.4" fill="#f23645"/>
<line x1="77.99" x2="77.99" y1="253.7" y2="266.5" stroke="#089981" stroke-width="0.75"/>
<rect x="76.74" y="258.5" width="2.5" height="4.2" fill="#089981"/>
<line x1="81.12" x2="81.12" y1="252.9" y2="267.4" stroke="#f23645" stroke-width="0.75"/>
<rect x="79.87" y="258.5" width="2.5" height="5.8" fill="#f23645"/>
<line x1="84.25" x2="84.25" y1="241.0" y2="269.5" stroke="#089981" stroke-width="0.75"/>
<rect x="83.00" y="255.7" width="2.5" height="8.6" fill="#089981"/>
<line x1="87.38" x2="87.38" y1="251.3" y2="260.4" stroke="#f23645" stroke-width="0.75"/>
<rect x="86.12" y="255.7" width="2.5" height="1.0" fill="#f23645"/>
<line x1="90.50" x2="90.50" y1="247.1" y2="265.4" stroke="#089981" stroke-width="0.75"/>
<rect x="89.25" y="255.3" width="2.5" height="1.4" fill="#089981"/>
<line x1="93.63" x2="93.63" y1="252.9" y2="258.7" stroke="#f23645" stroke-width="0.75"/>
<rect x="92.38" y="255.3" width="2.5" height="1.0" fill="#f23645"/>
<line x1="96.76" x2="96.76" y1="238.0" y2="257.2" stroke="#089981" stroke-width="0.75"/>
<rect x="95.51" y="242.3" width="2.5" height="14.0" fill="#089981"/>
<line x1="99.88" x2="99.88" y1="241.3" y2="266.2" stroke="#f23645" stroke-width="0.75"/>
<rect x="98.63" y="242.3" width="2.5" height="18.0" fill="#f23645"/>
<line x1="103.01" x2="103.01" y1="251.3" y2="261.2" stroke="#089981" stroke-width="0.75"/>
<rect x="101.76" y="254.4" width="2.5" height="6.0" fill="#089981"/>
<line x1="106.14" x2="106.14" y1="241.0" y2="261.2" stroke="#089981" stroke-width="0.75"/>
<rect x="104.89" y="242.7" width="2.5" height="11.7" fill="#089981"/>
<line x1="109.26" x2="109.26" y1="233.0" y2="248.8" stroke="#f23645" stroke-width="0.75"/>
<rect x="108.01" y="242.7" width="2.5" height="4.6" fill="#f23645"/>
<line x1="112.39" x2="112.39" y1="244.6" y2="252.1" stroke="#f23645" stroke-width="0.75"/>
<rect x="111.14" y="247.3" width="2.5" height="1.2" fill="#f23645"/>
<line x1="115.52" x2="115.52" y1="245.4" y2="251.3" stroke="#f23645" stroke-width="0.75"/>
<rect x="114.27" y="248.5" width="2.5" height="2.0" fill="#f23645"/>
<line x1="118.64" x2="118.64" y1="248.8" y2="259.6" stroke="#f23645" stroke-width="0.75"/>
<rect x="117.39" y="250.4" width="2.5" height="7.9" fill="#f23645"/>
<line x1="121.77" x2="121.77" y1="254.6" y2="263.7" stroke="#f23645" stroke-width="0.75"/>
<rect x="120.52" y="258.3" width="2.5" height="3.4" fill="#f23645"/>
<line x1="124.90" x2="124.90" y1="249.6" y2="262.1" stroke="#089981" stroke-width="0.75"/>
<rect x="123.65" y="252.0" width="2.5" height="9.7" fill="#089981"/>
<line x1="128.03" x2="128.03" y1="248.3" y2="262.1" stroke="#f23645" stroke-width="0.75"/>
<rect x="126.78" y="252.0" width="2.5" height="5.7" fill="#f23645"/>
<line x1="131.15" x2="131.15" y1="256.2" y2="282.8" stroke="#f23645" stroke-width="0.75"/>
<rect x="129.90" y="257.7" width="2.5" height="23.7" fill="#f23645"/>
<line x1="134.28" x2="134.28" y1="278.7" y2="288.6" stroke="#f23645" stroke-width="0.75"/>
<rect x="133.03" y="281.4" width="2.5" height="3.6" fill="#f23645"/>
<line x1="137.41" x2="137.41" y1="279.5" y2="285.3" stroke="#089981" stroke-width="0.75"/>
<rect x="136.16" y="280.1" width="2.5" height="4.8" fill="#089981"/>
<line x1="140.53" x2="140.53" y1="275.3" y2="284.5" stroke="#f23645" stroke-width="0.75"/>
<rect x="139.28" y="280.1" width="2.5" height="1.9" fill="#f23645"/>
<line x1="143.66" x2="143.66" y1="277.8" y2="286.1" stroke="#089981" stroke-width="0.75"/>
<rect x="142.41" y="281.6" width="2.5" height="0.8" fill="#089981"/>
<line x1="146.79" x2="146.79" y1="268.6" y2="285.2" stroke="#089981" stroke-width="0.75"/>
<rect x="145.54" y="272.8" width="2.5" height="8.8" fill="#089981"/>
<line x1="149.91" x2="149.91" y1="230.9" y2="274.4" stroke="#089981" stroke-width="0.75"/>
<rect x="148.66" y="232.1" width="2.5" height="40.7" fill="#089981"/>
<line x1="153.04" x2="153.04" y1="213.8" y2="248.2" stroke="#f23645" stroke-width="0.75"/>
<rect x="151.79" y="232.1" width="2.5" height="15.0" fill="#f23645"/>
<line x1="156.17" x2="156.17" y1="218.0" y2="249.5" stroke="#089981" stroke-width="0.75"/>
<rect x="154.92" y="226.3" width="2.5" height="20.8" fill="#089981"/>
<line x1="159.30" x2="159.30" y1="220.5" y2="229.3" stroke="#089981" stroke-width="0.75"/>
<rect x="158.05" y="225.4" width="2.5" height="0.8" fill="#089981"/>
<line x1="162.42" x2="162.42" y1="215.5" y2="233.2" stroke="#f23645" stroke-width="0.75"/>
<rect x="161.17" y="225.4" width="2.5" height="6.6" fill="#f23645"/>
<line x1="165.55" x2="165.55" y1="215.5" y2="239.6" stroke="#089981" stroke-width="0.75"/>
<rect x="164.30" y="221.3" width="2.5" height="10.8" fill="#089981"/>
<line x1="168.68" x2="168.68" y1="213.8" y2="232.1" stroke="#f23645" stroke-width="0.75"/>
<rect x="167.43" y="221.3" width="2.5" height="7.5" fill="#f23645"/>
<line x1="171.80" x2="171.80" y1="225.9" y2="245.4" stroke="#f23645" stroke-width="0.75"/>
<rect x="170.55" y="228.8" width="2.5" height="5.0" fill="#f23645"/>
<line x1="174.93" x2="174.93" y1="225.4" y2="243.7" stroke="#f23645" stroke-width="0.75"/>
<rect x="173.68" y="233.7" width="2.5" height="5.0" fill="#f23645"/>
<line x1="178.06" x2="178.06" y1="237.1" y2="258.7" stroke="#f23645" stroke-width="0.75"/>
<rect x="176.81" y="238.7" width="2.5" height="14.5" fill="#f23645"/>
<line x1="181.18" x2="181.18" y1="251.5" y2="261.2" stroke="#f23645" stroke-width="0.75"/>
<rect x="179.93" y="253.2" width="2.5" height="0.8" fill="#f23645"/>
<line x1="184.31" x2="184.31" y1="242.9" y2="254.5" stroke="#089981" stroke-width="0.75"/>
<rect x="183.06" y="245.4" width="2.5" height="8.3" fill="#089981"/>
<line x1="187.44" x2="187.44" y1="237.1" y2="251.5" stroke="#089981" stroke-width="0.75"/>
<rect x="186.19" y="244.5" width="2.5" height="0.8" fill="#089981"/>
<line x1="190.57" x2="190.57" y1="242.1" y2="251.2" stroke="#f23645" stroke-width="0.75"/>
<rect x="189.32" y="244.5" width="2.5" height="4.7" fill="#f23645"/>
<line x1="193.69" x2="193.69" y1="233.7" y2="251.5" stroke="#089981" stroke-width="0.75"/>
<rect x="192.44" y="241.2" width="2.5" height="8.0" fill="#089981"/>
<line x1="196.82" x2="196.82" y1="238.7" y2="249.5" stroke="#f23645" stroke-width="0.75"/>
<rect x="195.57" y="241.2" width="2.5" height="4.7" fill="#f23645"/>
<line x1="199.95" x2="199.95" y1="244.9" y2="272.0" stroke="#f23645" stroke-width="0.75"/>
<rect x="198.70" y="245.9" width="2.5" height="19.8" fill="#f23645"/>
<line x1="203.07" x2="203.07" y1="264.5" y2="269.5" stroke="#f23645" stroke-width="0.75"/>
<rect x="201.82" y="265.6" width="2.5" height="0.8" fill="#f23645"/>
<line x1="206.20" x2="206.20" y1="260.3" y2="269.1" stroke="#089981" stroke-width="0.75"/>
<rect x="204.95" y="265.3" width="2.5" height="0.8" fill="#089981"/>
<line x1="209.33" x2="209.33" y1="263.6" y2="268.1" stroke="#f23645" stroke-width="0.75"/>
<rect x="208.08" y="265.3" width="2.5" height="1.2" fill="#f23645"/>
<line x1="212.45" x2="212.45" y1="264.5" y2="276.9" stroke="#f23645" stroke-width="0.75"/>
<rect x="211.20" y="266.5" width="2.5" height="6.3" fill="#f23645"/>
<line x1="215.58" x2="215.58" y1="270.3" y2="284.7" stroke="#f23645" stroke-width="0.75"/>
<rect x="214.33" y="272.8" width="2.5" height="10.0" fill="#f23645"/>
<line x1="218.71" x2="218.71" y1="281.7" y2="316.2" stroke="#f23645" stroke-width="0.75"/>
<rect x="217.46" y="282.8" width="2.5" height="26.5" fill="#f23645"/>
<line x1="221.84" x2="221.84" y1="306.1" y2="326.7" stroke="#f23645" stroke-width="0.75"/>
<rect x="220.59" y="309.3" width="2.5" height="6.3" fill="#f23645"/>
<line x1="224.96" x2="224.96" y1="301.6" y2="324.6" stroke="#089981" stroke-width="0.75"/>
<rect x="223.71" y="314.6" width="2.5" height="1.0" fill="#089981"/>
<line x1="228.09" x2="228.09" y1="272.4" y2="316.9" stroke="#089981" stroke-width="0.75"/>
<rect x="226.84" y="275.2" width="2.5" height="39.4" fill="#089981"/>
<line x1="231.22" x2="231.22" y1="225.4" y2="281.9" stroke="#089981" stroke-width="0.75"/>
<rect x="229.97" y="237.1" width="2.5" height="38.1" fill="#089981"/>
<line x1="234.34" x2="234.34" y1="194.0" y2="239.8" stroke="#089981" stroke-width="0.75"/>
<rect x="233.09" y="224.9" width="2.5" height="12.1" fill="#089981"/>
<line x1="237.47" x2="237.47" y1="214.6" y2="238.2" stroke="#f23645" stroke-width="0.75"/>
<rect x="236.22" y="224.9" width="2.5" height="6.3" fill="#f23645"/>
<line x1="240.60" x2="240.60" y1="213.8" y2="233.7" stroke="#089981" stroke-width="0.75"/>
<rect x="239.35" y="216.3" width="2.5" height="15.0" fill="#089981"/>
<line x1="243.72" x2="243.72" y1="169.1" y2="218.1" stroke="#089981" stroke-width="0.75"/>
<rect x="242.47" y="175.2" width="2.5" height="41.1" fill="#089981"/>
<line x1="246.85" x2="246.85" y1="169.9" y2="187.4" stroke="#f23645" stroke-width="0.75"/>
<rect x="245.60" y="175.2" width="2.5" height="8.0" fill="#f23645"/>
<line x1="249.98" x2="249.98" y1="157.0" y2="184.1" stroke="#089981" stroke-width="0.75"/>
<rect x="248.73" y="162.5" width="2.5" height="20.8" fill="#089981"/>
<line x1="253.11" x2="253.11" y1="157.0" y2="174.9" stroke="#f23645" stroke-width="0.75"/>
<rect x="251.86" y="162.5" width="2.5" height="5.5" fill="#f23645"/>
<line x1="256.23" x2="256.23" y1="156.6" y2="174.9" stroke="#089981" stroke-width="0.75"/>
<rect x="254.98" y="161.3" width="2.5" height="6.6" fill="#089981"/>
<line x1="259.36" x2="259.36" y1="150.0" y2="186.9" stroke="#f23645" stroke-width="0.75"/>
<rect x="258.11" y="161.3" width="2.5" height="13.6" fill="#f23645"/>
<line x1="262.49" x2="262.49" y1="150.8" y2="177.4" stroke="#089981" stroke-width="0.75"/>
<rect x="261.24" y="159.6" width="2.5" height="15.3" fill="#089981"/>
<line x1="265.61" x2="265.61" y1="158.3" y2="179.9" stroke="#f23645" stroke-width="0.75"/>
<rect x="264.36" y="159.6" width="2.5" height="12.8" fill="#f23645"/>
<line x1="268.74" x2="268.74" y1="169.9" y2="177.4" stroke="#089981" stroke-width="0.75"/>
<rect x="267.49" y="171.9" width="2.5" height="0.8" fill="#089981"/>
<line x1="271.87" x2="271.87" y1="161.3" y2="173.3" stroke="#089981" stroke-width="0.75"/>
<rect x="270.62" y="165.3" width="2.5" height="6.6" fill="#089981"/>
<line x1="274.99" x2="274.99" y1="164.1" y2="189.0" stroke="#f23645" stroke-width="0.75"/>
<rect x="273.74" y="165.3" width="2.5" height="13.3" fill="#f23645"/>
<line x1="278.12" x2="278.12" y1="174.1" y2="189.0" stroke="#089981" stroke-width="0.75"/>
<rect x="276.87" y="177.9" width="2.5" height="0.8" fill="#089981"/>
<line x1="281.25" x2="281.25" y1="155.0" y2="179.1" stroke="#089981" stroke-width="0.75"/>
<rect x="280.00" y="161.3" width="2.5" height="16.6" fill="#089981"/>
<line x1="284.38" x2="284.38" y1="146.7" y2="168.3" stroke="#f23645" stroke-width="0.75"/>
<rect x="283.13" y="161.3" width="2.5" height="3.7" fill="#f23645"/>
<line x1="287.50" x2="287.50" y1="155.0" y2="173.3" stroke="#089981" stroke-width="0.75"/>
<rect x="286.25" y="158.3" width="2.5" height="6.6" fill="#089981"/>
<line x1="290.63" x2="290.63" y1="156.0" y2="161.5" stroke="#f23645" stroke-width="0.75"/>
<rect x="289.38" y="158.3" width="2.5" height="1.5" fill="#f23645"/>
<line x1="293.76" x2="293.76" y1="156.9" y2="164.3" stroke="#f23645" stroke-width="0.75"/>
<rect x="292.51" y="159.8" width="2.5" height="2.8" fill="#f23645"/>
<line x1="296.88" x2="296.88" y1="156.9" y2="175.1" stroke="#f23645" stroke-width="0.75"/>
<rect x="295.63" y="162.7" width="2.5" height="5.0" fill="#f23645"/>
<line x1="300.01" x2="300.01" y1="159.3" y2="170.1" stroke="#089981" stroke-width="0.75"/>
<rect x="298.76" y="163.2" width="2.5" height="4.5" fill="#089981"/>
<line x1="303.14" x2="303.14" y1="154.4" y2="166.0" stroke="#f23645" stroke-width="0.75"/>
<rect x="301.89" y="163.2" width="2.5" height="0.8" fill="#f23645"/>
<line x1="306.26" x2="306.26" y1="161.8" y2="169.3" stroke="#f23645" stroke-width="0.75"/>
<rect x="305.01" y="163.8" width="2.5" height="2.2" fill="#f23645"/>
<line x1="309.39" x2="309.39" y1="164.3" y2="168.5" stroke="#f23645" stroke-width="0.75"/>
<rect x="308.14" y="166.0" width="2.5" height="1.7" fill="#f23645"/>
<line x1="312.52" x2="312.52" y1="165.2" y2="168.5" stroke="#089981" stroke-width="0.75"/>
<rect x="311.27" y="166.3" width="2.5" height="1.3" fill="#089981"/>
<line x1="315.65" x2="315.65" y1="157.7" y2="169.3" stroke="#089981" stroke-width="0.75"/>
<rect x="314.40" y="161.0" width="2.5" height="5.3" fill="#089981"/>
<line x1="318.77" x2="318.77" y1="140.2" y2="162.7" stroke="#089981" stroke-width="0.75"/>
<rect x="317.52" y="141.1" width="2.5" height="19.9" fill="#089981"/>
<line x1="321.90" x2="321.90" y1="125.3" y2="141.9" stroke="#089981" stroke-width="0.75"/>
<rect x="320.65" y="131.1" width="2.5" height="10.0" fill="#089981"/>
<line x1="325.03" x2="325.03" y1="126.1" y2="136.9" stroke="#f23645" stroke-width="0.75"/>
<rect x="323.78" y="131.1" width="2.5" height="4.2" fill="#f23645"/>
<line x1="328.15" x2="328.15" y1="124.0" y2="136.1" stroke="#089981" stroke-width="0.75"/>
<rect x="326.90" y="127.8" width="2.5" height="7.5" fill="#089981"/>
<line x1="331.28" x2="331.28" y1="118.3" y2="132.8" stroke="#089981" stroke-width="0.75"/>
<rect x="330.03" y="127.0" width="2.5" height="0.8" fill="#089981"/>
<line x1="334.41" x2="334.41" y1="126.1" y2="130.3" stroke="#f23645" stroke-width="0.75"/>
<rect x="333.16" y="127.0" width="2.5" height="2.5" fill="#f23645"/>
<line x1="337.53" x2="337.53" y1="127.0" y2="131.1" stroke="#089981" stroke-width="0.75"/>
<rect x="336.28" y="128.6" width="2.5" height="0.8" fill="#089981"/>
<line x1="340.66" x2="340.66" y1="127.8" y2="145.2" stroke="#f23645" stroke-width="0.75"/>
<rect x="339.41" y="128.6" width="2.5" height="15.0" fill="#f23645"/>
<line x1="343.79" x2="343.79" y1="127.0" y2="147.7" stroke="#089981" stroke-width="0.75"/>
<rect x="342.54" y="128.3" width="2.5" height="15.3" fill="#089981"/>
<line x1="346.92" x2="346.92" y1="127.8" y2="153.5" stroke="#f23645" stroke-width="0.75"/>
<rect x="345.67" y="128.3" width="2.5" height="24.4" fill="#f23645"/>
<line x1="350.04" x2="350.04" y1="148.5" y2="164.8" stroke="#f23645" stroke-width="0.75"/>
<rect x="348.79" y="152.7" width="2.5" height="8.8" fill="#f23645"/>
<line x1="353.17" x2="353.17" y1="160.2" y2="178.8" stroke="#f23645" stroke-width="0.75"/>
<rect x="351.92" y="161.5" width="2.5" height="16.6" fill="#f23645"/>
<line x1="356.30" x2="356.30" y1="168.1" y2="179.8" stroke="#089981" stroke-width="0.75"/>
<rect x="355.05" y="168.8" width="2.5" height="9.3" fill="#089981"/>
<line x1="359.42" x2="359.42" y1="168.5" y2="177.6" stroke="#f23645" stroke-width="0.75"/>
<rect x="358.17" y="168.8" width="2.5" height="3.8" fill="#f23645"/>
<line x1="362.55" x2="362.55" y1="165.5" y2="182.6" stroke="#f23645" stroke-width="0.75"/>
<rect x="361.30" y="172.6" width="2.5" height="1.7" fill="#f23645"/>
<line x1="365.68" x2="365.68" y1="159.3" y2="177.6" stroke="#089981" stroke-width="0.75"/>
<rect x="364.43" y="160.5" width="2.5" height="13.8" fill="#089981"/>
<line x1="368.80" x2="368.80" y1="133.6" y2="176.0" stroke="#089981" stroke-width="0.75"/>
<rect x="367.55" y="159.3" width="2.5" height="1.2" fill="#089981"/>
<line x1="371.93" x2="371.93" y1="136.6" y2="160.2" stroke="#089981" stroke-width="0.75"/>
<rect x="370.68" y="142.4" width="2.5" height="16.9" fill="#089981"/>
<line x1="375.06" x2="375.06" y1="140.2" y2="151.0" stroke="#f23645" stroke-width="0.75"/>
<rect x="373.81" y="142.4" width="2.5" height="2.8" fill="#f23645"/>
<line x1="378.19" x2="378.19" y1="144.4" y2="150.2" stroke="#f23645" stroke-width="0.75"/>
<rect x="376.94" y="145.2" width="2.5" height="2.0" fill="#f23645"/>
<line x1="381.31" x2="381.31" y1="136.6" y2="148.5" stroke="#089981" stroke-width="0.75"/>
<rect x="380.06" y="146.1" width="2.5" height="1.2" fill="#089981"/>
<line x1="384.44" x2="384.44" y1="144.4" y2="170.5" stroke="#f23645" stroke-width="0.75"/>
<rect x="383.19" y="146.1" width="2.5" height="17.8" fill="#f23645"/>
<line x1="387.57" x2="387.57" y1="153.5" y2="166.8" stroke="#089981" stroke-width="0.75"/>
<rect x="386.32" y="154.9" width="2.5" height="9.0" fill="#089981"/>
<line x1="390.69" x2="390.69" y1="145.2" y2="161.8" stroke="#089981" stroke-width="0.75"/>
<rect x="389.44" y="149.4" width="2.5" height="5.5" fill="#089981"/>
<line x1="393.82" x2="393.82" y1="144.4" y2="153.5" stroke="#f23645" stroke-width="0.75"/>
<rect x="392.57" y="149.4" width="2.5" height="3.3" fill="#f23645"/>
<line x1="396.95" x2="396.95" y1="139.4" y2="153.5" stroke="#089981" stroke-width="0.75"/>
<rect x="395.70" y="143.9" width="2.5" height="8.8" fill="#089981"/>
<line x1="400.07" x2="400.07" y1="138.6" y2="161.5" stroke="#f23645" stroke-width="0.75"/>
<rect x="398.82" y="143.9" width="2.5" height="10.0" fill="#f23645"/>
<line x1="403.20" x2="403.20" y1="149.4" y2="159.3" stroke="#f23645" stroke-width="0.75"/>
<rect x="401.95" y="153.9" width="2.5" height="4.7" fill="#f23645"/>
<line x1="406.33" x2="406.33" y1="157.7" y2="176.8" stroke="#f23645" stroke-width="0.75"/>
<rect x="405.08" y="158.5" width="2.5" height="12.0" fill="#f23645"/>
<line x1="409.46" x2="409.46" y1="167.6" y2="176.0" stroke="#f23645" stroke-width="0.75"/>
<rect x="408.21" y="170.5" width="2.5" height="1.0" fill="#f23645"/>
<line x1="412.58" x2="412.58" y1="161.0" y2="185.9" stroke="#f23645" stroke-width="0.75"/>
<rect x="411.33" y="171.5" width="2.5" height="0.8" fill="#f23645"/>
<line x1="415.71" x2="415.71" y1="171.0" y2="185.9" stroke="#f23645" stroke-width="0.75"/>
<rect x="414.46" y="171.8" width="2.5" height="11.3" fill="#f23645"/>
<line x1="418.84" x2="418.84" y1="181.8" y2="202.3" stroke="#f23645" stroke-width="0.75"/>
<rect x="417.59" y="183.1" width="2.5" height="3.3" fill="#f23645"/>
<line x1="421.96" x2="421.96" y1="180.9" y2="187.6" stroke="#089981" stroke-width="0.75"/>
<rect x="420.71" y="184.3" width="2.5" height="2.2" fill="#089981"/>
<line x1="425.09" x2="425.09" y1="178.4" y2="187.6" stroke="#089981" stroke-width="0.75"/>
<rect x="423.84" y="183.4" width="2.5" height="0.8" fill="#089981"/>
<line x1="428.22" x2="428.22" y1="171.0" y2="185.1" stroke="#089981" stroke-width="0.75"/>
<rect x="426.97" y="179.3" width="2.5" height="4.2" fill="#089981"/>
<line x1="431.34" x2="431.34" y1="178.1" y2="183.4" stroke="#f23645" stroke-width="0.75"/>
<rect x="430.09" y="179.3" width="2.5" height="3.3" fill="#f23645"/>
<line x1="434.47" x2="434.47" y1="174.3" y2="190.1" stroke="#089981" stroke-width="0.75"/>
<rect x="433.22" y="176.0" width="2.5" height="6.6" fill="#089981"/>
<line x1="437.60" x2="437.60" y1="174.8" y2="190.1" stroke="#f23645" stroke-width="0.75"/>
<rect x="436.35" y="176.0" width="2.5" height="10.0" fill="#f23645"/>
<line x1="440.73" x2="440.73" y1="179.3" y2="188.4" stroke="#089981" stroke-width="0.75"/>
<rect x="439.48" y="184.3" width="2.5" height="1.7" fill="#089981"/>
<line x1="443.85" x2="443.85" y1="180.1" y2="185.1" stroke="#089981" stroke-width="0.75"/>
<rect x="442.60" y="181.4" width="2.5" height="2.8" fill="#089981"/>
<line x1="446.98" x2="446.98" y1="179.3" y2="188.4" stroke="#f23645" stroke-width="0.75"/>
<rect x="445.73" y="181.4" width="2.5" height="5.3" fill="#f23645"/>
<line x1="450.11" x2="450.11" y1="183.4" y2="189.2" stroke="#089981" stroke-width="0.75"/>
<rect x="448.86" y="185.1" width="2.5" height="1.7" fill="#089981"/>
<line x1="453.23" x2="453.23" y1="175.1" y2="186.8" stroke="#089981" stroke-width="0.75"/>
<rect x="451.98" y="179.8" width="2.5" height="5.3" fill="#089981"/>
<line x1="456.36" x2="456.36" y1="179.1" y2="197.8" stroke="#f23645" stroke-width="0.75"/>
<rect x="455.11" y="179.8" width="2.5" height="13.7" fill="#f23645"/>
<line x1="459.49" x2="459.49" y1="189.9" y2="201.5" stroke="#089981" stroke-width="0.75"/>
<rect x="458.24" y="191.5" width="2.5" height="2.0" fill="#089981"/>
<line x1="462.61" x2="462.61" y1="183.2" y2="194.0" stroke="#089981" stroke-width="0.75"/>
<rect x="461.36" y="187.4" width="2.5" height="4.2" fill="#089981"/>
<line x1="465.74" x2="465.74" y1="184.0" y2="189.0" stroke="#089981" stroke-width="0.75"/>
<rect x="464.49" y="184.9" width="2.5" height="2.5" fill="#089981"/>
<line x1="468.87" x2="468.87" y1="162.4" y2="186.2" stroke="#089981" stroke-width="0.75"/>
<rect x="467.62" y="165.8" width="2.5" height="19.1" fill="#089981"/>
<line x1="472.00" x2="472.00" y1="160.3" y2="173.2" stroke="#f23645" stroke-width="0.75"/>
<rect x="470.75" y="165.8" width="2.5" height="5.5" fill="#f23645"/>
<line x1="475.12" x2="475.12" y1="164.9" y2="172.9" stroke="#f23645" stroke-width="0.75"/>
<rect x="473.87" y="171.2" width="2.5" height="0.8" fill="#f23645"/>
<line x1="478.25" x2="478.25" y1="169.1" y2="184.9" stroke="#f23645" stroke-width="0.75"/>
<rect x="477.00" y="171.6" width="2.5" height="7.5" fill="#f23645"/>
<line x1="481.38" x2="481.38" y1="177.4" y2="188.5" stroke="#f23645" stroke-width="0.75"/>
<rect x="480.13" y="179.1" width="2.5" height="6.6" fill="#f23645"/>
<line x1="484.50" x2="484.50" y1="177.4" y2="190.7" stroke="#089981" stroke-width="0.75"/>
<rect x="483.25" y="178.2" width="2.5" height="7.5" fill="#089981"/>
<line x1="487.63" x2="487.63" y1="176.9" y2="183.5" stroke="#f23645" stroke-width="0.75"/>
<rect x="486.38" y="178.2" width="2.5" height="3.3" fill="#f23645"/>
<line x1="490.76" x2="490.76" y1="174.9" y2="182.9" stroke="#089981" stroke-width="0.75"/>
<rect x="489.51" y="180.2" width="2.5" height="1.3" fill="#089981"/>
<line x1="493.88" x2="493.88" y1="179.9" y2="208.5" stroke="#f23645" stroke-width="0.75"/>
<rect x="492.63" y="180.2" width="2.5" height="22.9" fill="#f23645"/>
<line x1="497.01" x2="497.01" y1="176.6" y2="209.8" stroke="#089981" stroke-width="0.75"/>
<rect x="495.76" y="177.9" width="2.5" height="25.2" fill="#089981"/>
<line x1="500.14" x2="500.14" y1="175.7" y2="197.3" stroke="#f23645" stroke-width="0.75"/>
<rect x="498.89" y="177.9" width="2.5" height="16.1" fill="#f23645"/>
<line x1="503.27" x2="503.27" y1="184.9" y2="195.7" stroke="#089981" stroke-width="0.75"/>
<rect x="502.02" y="191.2" width="2.5" height="2.8" fill="#089981"/>
<line x1="506.39" x2="506.39" y1="185.7" y2="194.8" stroke="#f23645" stroke-width="0.75"/>
<rect x="505.14" y="191.2" width="2.5" height="0.8" fill="#f23645"/>
<line x1="509.52" x2="509.52" y1="189.9" y2="205.6" stroke="#f23645" stroke-width="0.75"/>
<rect x="508.27" y="191.8" width="2.5" height="6.0" fill="#f23645"/>
<line x1="512.65" x2="512.65" y1="193.2" y2="201.5" stroke="#f23645" stroke-width="0.75"/>
<rect x="511.40" y="197.8" width="2.5" height="0.8" fill="#f23645"/>
<line x1="515.77" x2="515.77" y1="196.5" y2="204.8" stroke="#f23645" stroke-width="0.75"/>
<rect x="514.52" y="198.5" width="2.5" height="2.2" fill="#f23645"/>
<line x1="518.90" x2="518.90" y1="191.5" y2="204.0" stroke="#089981" stroke-width="0.75"/>
<rect x="517.65" y="199.5" width="2.5" height="1.2" fill="#089981"/>
<line x1="522.03" x2="522.03" y1="198.2" y2="220.1" stroke="#f23645" stroke-width="0.75"/>
<rect x="520.78" y="199.5" width="2.5" height="13.3" fill="#f23645"/>
<line x1="525.15" x2="525.15" y1="203.1" y2="221.4" stroke="#089981" stroke-width="0.75"/>
<rect x="523.90" y="207.3" width="2.5" height="5.5" fill="#089981"/>
<line x1="528.28" x2="528.28" y1="192.3" y2="214.4" stroke="#089981" stroke-width="0.75"/>
<rect x="527.03" y="193.2" width="2.5" height="14.1" fill="#089981"/>
<line x1="531.41" x2="531.41" y1="184.9" y2="195.7" stroke="#089981" stroke-width="0.75"/>
<rect x="530.16" y="190.2" width="2.5" height="3.0" fill="#089981"/>
<line x1="534.54" x2="534.54" y1="186.9" y2="194.8" stroke="#f23645" stroke-width="0.75"/>
<rect x="533.29" y="190.2" width="2.5" height="3.8" fill="#f23645"/>
<line x1="537.66" x2="537.66" y1="181.2" y2="194.8" stroke="#089981" stroke-width="0.75"/>
<rect x="536.41" y="184.5" width="2.5" height="9.5" fill="#089981"/>
<line x1="540.79" x2="540.79" y1="159.6" y2="187.9" stroke="#089981" stroke-width="0.75"/>
<rect x="539.54" y="160.8" width="2.5" height="23.8" fill="#089981"/>
<line x1="543.92" x2="543.92" y1="122.9" y2="162.3" stroke="#089981" stroke-width="0.75"/>
<rect x="542.67" y="134.9" width="2.5" height="25.9" fill="#089981"/>
<line x1="547.04" x2="547.04" y1="127.4" y2="140.7" stroke="#f23645" stroke-width="0.75"/>
<rect x="545.79" y="134.9" width="2.5" height="1.7" fill="#f23645"/>
<line x1="550.17" x2="550.17" y1="113.6" y2="137.9" stroke="#089981" stroke-width="0.75"/>
<rect x="548.92" y="124.1" width="2.5" height="12.5" fill="#089981"/>
<line x1="553.30" x2="553.30" y1="122.4" y2="130.7" stroke="#f23645" stroke-width="0.75"/>
<rect x="552.05" y="124.1" width="2.5" height="2.2" fill="#f23645"/>
<line x1="556.42" x2="556.42" y1="118.6" y2="129.1" stroke="#f23645" stroke-width="0.75"/>
<rect x="555.17" y="126.2" width="2.5" height="1.2" fill="#f23645"/>
<line x1="559.55" x2="559.55" y1="124.1" y2="135.7" stroke="#f23645" stroke-width="0.75"/>
<rect x="558.30" y="127.4" width="2.5" height="3.3" fill="#f23645"/>
<line x1="562.68" x2="562.68" y1="119.1" y2="131.6" stroke="#089981" stroke-width="0.75"/>
<rect x="561.43" y="124.1" width="2.5" height="6.6" fill="#089981"/>
<line x1="565.81" x2="565.81" y1="123.3" y2="135.7" stroke="#f23645" stroke-width="0.75"/>
<rect x="564.56" y="124.1" width="2.5" height="9.1" fill="#f23645"/>
<line x1="568.93" x2="568.93" y1="123.3" y2="134.1" stroke="#089981" stroke-width="0.75"/>
<rect x="567.68" y="128.2" width="2.5" height="5.0" fill="#089981"/>
<line x1="572.06" x2="572.06" y1="116.3" y2="140.7" stroke="#f23645" stroke-width="0.75"/>
<rect x="570.81" y="128.2" width="2.5" height="0.8" fill="#f23645"/>
<line x1="575.19" x2="575.19" y1="124.9" y2="129.9" stroke="#089981" stroke-width="0.75"/>
<rect x="573.94" y="126.2" width="2.5" height="2.8" fill="#089981"/>
<line x1="578.31" x2="578.31" y1="123.3" y2="132.4" stroke="#f23645" stroke-width="0.75"/>
<rect x="577.06" y="126.2" width="2.5" height="0.8" fill="#f23645"/>
<line x1="581.44" x2="581.44" y1="114.1" y2="127.4" stroke="#089981" stroke-width="0.75"/>
<rect x="580.19" y="116.9" width="2.5" height="10.0" fill="#089981"/>
<line x1="584.57" x2="584.57" y1="115.0" y2="124.1" stroke="#f23645" stroke-width="0.75"/>
<rect x="583.32" y="116.9" width="2.5" height="6.3" fill="#f23645"/>
<line x1="587.70" x2="587.70" y1="121.6" y2="130.7" stroke="#f23645" stroke-width="0.75"/>
<rect x="586.45" y="123.3" width="2.5" height="4.2" fill="#f23645"/>
<line x1="590.82" x2="590.82" y1="113.0" y2="136.9" stroke="#f23645" stroke-width="0.75"/>
<rect x="589.57" y="127.4" width="2.5" height="8.3" fill="#f23645"/>
<line x1="593.95" x2="593.95" y1="127.9" y2="138.5" stroke="#089981" stroke-width="0.75"/>
<rect x="592.70" y="129.6" width="2.5" height="6.1" fill="#089981"/>
<line x1="597.08" x2="597.08" y1="128.6" y2="131.6" stroke="#f23645" stroke-width="0.75"/>
<rect x="595.83" y="129.6" width="2.5" height="0.8" fill="#f23645"/>
<line x1="600.20" x2="600.20" y1="128.2" y2="132.9" stroke="#f23645" stroke-width="0.75"/>
<rect x="598.95" y="130.4" width="2.5" height="1.2" fill="#f23645"/>
<line x1="603.33" x2="603.33" y1="119.1" y2="134.1" stroke="#089981" stroke-width="0.75"/>
<rect x="602.08" y="128.6" width="2.5" height="3.0" fill="#089981"/>
<line x1="606.46" x2="606.46" y1="121.6" y2="129.9" stroke="#089981" stroke-width="0.75"/>
<rect x="605.21" y="125.2" width="2.5" height="3.3" fill="#089981"/>
<line x1="609.58" x2="609.58" y1="118.3" y2="129.6" stroke="#f23645" stroke-width="0.75"/>
<rect x="608.33" y="125.2" width="2.5" height="3.3" fill="#f23645"/>
<line x1="612.71" x2="612.71" y1="108.0" y2="129.9" stroke="#089981" stroke-width="0.75"/>
<rect x="611.46" y="113.3" width="2.5" height="15.3" fill="#089981"/>
<line x1="615.84" x2="615.84" y1="110.0" y2="134.9" stroke="#f23645" stroke-width="0.75"/>
<rect x="614.59" y="113.3" width="2.5" height="16.3" fill="#f23645"/>
<line x1="618.97" x2="618.97" y1="127.4" y2="130.7" stroke="#089981" stroke-width="0.75"/>
<rect x="617.72" y="128.6" width="2.5" height="1.0" fill="#089981"/>
<line x1="622.09" x2="622.09" y1="127.4" y2="131.6" stroke="#f23645" stroke-width="0.75"/>
<rect x="620.84" y="128.6" width="2.5" height="1.7" fill="#f23645"/>
<line x1="625.22" x2="625.22" y1="129.1" y2="138.2" stroke="#f23645" stroke-width="0.75"/>
<rect x="623.97" y="130.2" width="2.5" height="1.7" fill="#f23645"/>
<line x1="628.35" x2="628.35" y1="130.7" y2="140.7" stroke="#f23645" stroke-width="0.75"/>
<rect x="627.10" y="131.9" width="2.5" height="4.3" fill="#f23645"/>
<line x1="631.47" x2="631.47" y1="130.7" y2="137.9" stroke="#089981" stroke-width="0.75"/>
<rect x="630.22" y="135.2" width="2.5" height="1.0" fill="#089981"/>
<line x1="634.60" x2="634.60" y1="128.2" y2="140.7" stroke="#f23645" stroke-width="0.75"/>
<rect x="633.35" y="135.2" width="2.5" height="1.7" fill="#f23645"/>
<line x1="637.73" x2="637.73" y1="133.2" y2="139.0" stroke="#089981" stroke-width="0.75"/>
<rect x="636.48" y="135.2" width="2.5" height="1.7" fill="#089981"/>
<line x1="640.85" x2="640.85" y1="134.1" y2="139.9" stroke="#f23645" stroke-width="0.75"/>
<rect x="639.60" y="135.2" width="2.5" height="1.7" fill="#f23645"/>
<line x1="643.98" x2="643.98" y1="128.6" y2="138.2" stroke="#089981" stroke-width="0.75"/>
<rect x="642.73" y="133.2" width="2.5" height="3.7" fill="#089981"/>
<line x1="647.11" x2="647.11" y1="132.4" y2="149.8" stroke="#f23645" stroke-width="0.75"/>
<rect x="645.86" y="133.2" width="2.5" height="13.3" fill="#f23645"/>
<line x1="650.24" x2="650.24" y1="142.4" y2="148.2" stroke="#089981" stroke-width="0.75"/>
<rect x="648.99" y="144.5" width="2.5" height="2.0" fill="#089981"/>
<line x1="653.36" x2="653.36" y1="138.5" y2="147.3" stroke="#089981" stroke-width="0.75"/>
<rect x="652.11" y="143.5" width="2.5" height="1.0" fill="#089981"/>
<line x1="656.49" x2="656.49" y1="139.9" y2="147.3" stroke="#f23645" stroke-width="0.75"/>
<rect x="655.24" y="143.5" width="2.5" height="2.2" fill="#f23645"/>
<line x1="659.62" x2="659.62" y1="142.9" y2="146.5" stroke="#089981" stroke-width="0.75"/>
<rect x="658.37" y="144.0" width="2.5" height="1.7" fill="#089981"/>
<line x1="662.74" x2="662.74" y1="142.9" y2="145.2" stroke="#089981" stroke-width="0.75"/>
<rect x="661.49" y="143.5" width="2.5" height="0.8" fill="#089981"/>
<line x1="665.87" x2="665.87" y1="142.4" y2="148.2" stroke="#f23645" stroke-width="0.75"/>
<rect x="664.62" y="143.5" width="2.5" height="1.3" fill="#f23645"/>
<line x1="669.00" x2="669.00" y1="141.5" y2="147.3" stroke="#f23645" stroke-width="0.75"/>
<rect x="667.75" y="144.9" width="2.5" height="0.8" fill="#f23645"/>
<line x1="672.12" x2="672.12" y1="137.4" y2="155.7" stroke="#089981" stroke-width="0.75"/>
<rect x="670.87" y="138.6" width="2.5" height="7.1" fill="#089981"/>
<line x1="675.25" x2="675.25" y1="133.6" y2="150.7" stroke="#f23645" stroke-width="0.75"/>
<rect x="674.00" y="138.6" width="2.5" height="8.8" fill="#f23645"/>
<line x1="678.38" x2="678.38" y1="145.3" y2="151.5" stroke="#089981" stroke-width="0.75"/>
<rect x="677.13" y="146.2" width="2.5" height="1.2" fill="#089981"/>
<line x1="681.50" x2="681.50" y1="140.7" y2="148.2" stroke="#089981" stroke-width="0.75"/>
<rect x="680.25" y="142.4" width="2.5" height="3.8" fill="#089981"/>
<line x1="684.63" x2="684.63" y1="141.3" y2="144.7" stroke="#f23645" stroke-width="0.75"/>
<rect x="683.38" y="142.4" width="2.5" height="1.3" fill="#f23645"/>
<line x1="687.76" x2="687.76" y1="140.4" y2="145.5" stroke="#089981" stroke-width="0.75"/>
<rect x="686.51" y="142.4" width="2.5" height="1.3" fill="#089981"/>
<line x1="690.89" x2="690.89" y1="137.4" y2="148.5" stroke="#089981" stroke-width="0.75"/>
<rect x="689.64" y="138.6" width="2.5" height="3.8" fill="#089981"/>
<line x1="694.01" x2="694.01" y1="124.1" y2="142.4" stroke="#089981" stroke-width="0.75"/>
<rect x="692.76" y="130.3" width="2.5" height="8.3" fill="#089981"/>
<line x1="697.14" x2="697.14" y1="126.3" y2="134.6" stroke="#f23645" stroke-width="0.75"/>
<rect x="695.89" y="130.3" width="2.5" height="3.0" fill="#f23645"/>
<line x1="700.27" x2="700.27" y1="131.9" y2="139.9" stroke="#f23645" stroke-width="0.75"/>
<rect x="699.02" y="133.3" width="2.5" height="3.3" fill="#f23645"/>
<line x1="703.39" x2="703.39" y1="134.9" y2="138.6" stroke="#f23645" stroke-width="0.75"/>
<rect x="702.14" y="136.6" width="2.5" height="1.3" fill="#f23645"/>
<line x1="706.52" x2="706.52" y1="136.6" y2="141.6" stroke="#f23645" stroke-width="0.75"/>
<rect x="705.27" y="137.9" width="2.5" height="2.8" fill="#f23645"/>
<line x1="709.65" x2="709.65" y1="139.6" y2="143.2" stroke="#f23645" stroke-width="0.75"/>
<rect x="708.40" y="140.7" width="2.5" height="1.7" fill="#f23645"/>
<line x1="712.77" x2="712.77" y1="134.1" y2="145.2" stroke="#089981" stroke-width="0.75"/>
<rect x="711.52" y="137.4" width="2.5" height="5.0" fill="#089981"/>
<line x1="715.90" x2="715.90" y1="136.6" y2="146.2" stroke="#f23645" stroke-width="0.75"/>
<rect x="714.65" y="137.4" width="2.5" height="7.5" fill="#f23645"/>
<line x1="719.03" x2="719.03" y1="144.1" y2="153.2" stroke="#f23645" stroke-width="0.75"/>
<rect x="717.78" y="144.9" width="2.5" height="7.5" fill="#f23645"/>
<line x1="722.16" x2="722.16" y1="149.6" y2="199.5" stroke="#f23645" stroke-width="0.75"/>
<rect x="720.91" y="152.4" width="2.5" height="33.4" fill="#f23645"/>
<line x1="725.28" x2="725.28" y1="176.6" y2="197.3" stroke="#f23645" stroke-width="0.75"/>
<rect x="724.03" y="185.7" width="2.5" height="4.2" fill="#f23645"/>
<line x1="728.41" x2="728.41" y1="188.2" y2="194.9" stroke="#f23645" stroke-width="0.75"/>
<rect x="727.16" y="189.9" width="2.5" height="1.3" fill="#f23645"/>
<line x1="731.54" x2="731.54" y1="188.5" y2="194.0" stroke="#f23645" stroke-width="0.75"/>
<rect x="730.29" y="191.2" width="2.5" height="1.2" fill="#f23645"/>
<line x1="734.66" x2="734.66" y1="191.2" y2="200.7" stroke="#f23645" stroke-width="0.75"/>
<rect x="733.41" y="192.4" width="2.5" height="4.5" fill="#f23645"/>
<line x1="737.79" x2="737.79" y1="194.9" y2="209.8" stroke="#f23645" stroke-width="0.75"/>
<rect x="736.54" y="196.8" width="2.5" height="2.2" fill="#f23645"/>
<line x1="740.92" x2="740.92" y1="185.7" y2="202.3" stroke="#089981" stroke-width="0.75"/>
<rect x="739.67" y="191.9" width="2.5" height="7.1" fill="#089981"/>
<line x1="744.04" x2="744.04" y1="189.9" y2="201.5" stroke="#f23645" stroke-width="0.75"/>
<rect x="742.79" y="191.9" width="2.5" height="5.5" fill="#f23645"/>
<line x1="747.17" x2="747.17" y1="194.0" y2="203.2" stroke="#f23645" stroke-width="0.75"/>
<rect x="745.92" y="197.3" width="2.5" height="2.0" fill="#f23645"/>
<line x1="750.30" x2="750.30" y1="198.2" y2="200.2" stroke="#f23645" stroke-width="0.75"/>
<rect x="749.05" y="199.3" width="2.5" height="0.8" fill="#f23645"/>
<line x1="753.43" x2="753.43" y1="197.3" y2="200.2" stroke="#089981" stroke-width="0.75"/>
<rect x="752.18" y="198.2" width="2.5" height="1.3" fill="#089981"/>
<line x1="756.55" x2="756.55" y1="196.5" y2="201.5" stroke="#f23645" stroke-width="0.75"/>
<rect x="755.30" y="198.2" width="2.5" height="1.3" fill="#f23645"/>
<line x1="759.68" x2="759.68" y1="164.1" y2="201.2" stroke="#089981" stroke-width="0.75"/>
<rect x="758.43" y="170.8" width="2.5" height="28.7" fill="#089981"/>
<line x1="762.81" x2="762.81" y1="169.6" y2="182.4" stroke="#f23645" stroke-width="0.75"/>
<rect x="761.56" y="170.8" width="2.5" height="6.6" fill="#f23645"/>
<line x1="765.93" x2="765.93" y1="174.6" y2="204.8" stroke="#f23645" stroke-width="0.75"/>
<rect x="764.68" y="177.4" width="2.5" height="23.3" fill="#f23645"/>
<line x1="769.06" x2="769.06" y1="197.3" y2="210.6" stroke="#f23645" stroke-width="0.75"/>
<rect x="767.81" y="200.7" width="2.5" height="2.5" fill="#f23645"/>
<line x1="772.19" x2="772.19" y1="200.7" y2="204.0" stroke="#089981" stroke-width="0.75"/>
<rect x="770.94" y="201.8" width="2.5" height="1.3" fill="#089981"/>
<line x1="775.31" x2="775.31" y1="198.2" y2="203.2" stroke="#089981" stroke-width="0.75"/>
<rect x="774.06" y="199.8" width="2.5" height="2.0" fill="#089981"/>
<line x1="778.44" x2="778.44" y1="197.3" y2="207.3" stroke="#f23645" stroke-width="0.75"/>
<rect x="777.19" y="199.8" width="2.5" height="3.7" fill="#f23645"/>
<line x1="781.57" x2="781.57" y1="199.8" y2="207.3" stroke="#f23645" stroke-width="0.75"/>
<rect x="780.32" y="203.5" width="2.5" height="1.0" fill="#f23645"/>
<line x1="784.70" x2="784.70" y1="199.8" y2="211.1" stroke="#f23645" stroke-width="0.75"/>
<rect x="783.45" y="204.5" width="2.5" height="0.8" fill="#f23645"/>
<line x1="787.82" x2="787.82" y1="193.2" y2="206.8" stroke="#089981" stroke-width="0.75"/>
<rect x="786.57" y="196.2" width="2.5" height="9.0" fill="#089981"/>
<line x1="790.95" x2="790.95" y1="192.9" y2="202.8" stroke="#f23645" stroke-width="0.75"/>
<rect x="789.70" y="196.2" width="2.5" height="5.6" fill="#f23645"/>
<line x1="794.08" x2="794.08" y1="200.7" y2="203.5" stroke="#f23645" stroke-width="0.75"/>
<rect x="792.83" y="201.8" width="2.5" height="0.8" fill="#f23645"/>
<line x1="797.20" x2="797.20" y1="199.5" y2="207.3" stroke="#f23645" stroke-width="0.75"/>
<rect x="795.95" y="202.3" width="2.5" height="0.8" fill="#f23645"/>
<line x1="800.33" x2="800.33" y1="201.8" y2="218.9" stroke="#f23645" stroke-width="0.75"/>
<rect x="799.08" y="203.2" width="2.5" height="12.0" fill="#f23645"/>
<line x1="803.46" x2="803.46" y1="190.7" y2="215.6" stroke="#089981" stroke-width="0.75"/>
<rect x="802.21" y="203.5" width="2.5" height="11.6" fill="#089981"/>
<line x1="806.59" x2="806.59" y1="192.4" y2="204.5" stroke="#089981" stroke-width="0.75"/>
<rect x="805.34" y="196.2" width="2.5" height="7.3" fill="#089981"/>
<line x1="809.71" x2="809.71" y1="185.7" y2="197.3" stroke="#089981" stroke-width="0.75"/>
<rect x="808.46" y="190.7" width="2.5" height="5.5" fill="#089981"/>
<line x1="812.84" x2="812.84" y1="184.9" y2="193.5" stroke="#089981" stroke-width="0.75"/>
<rect x="811.59" y="189.5" width="2.5" height="1.2" fill="#089981"/>
<line x1="815.97" x2="815.97" y1="187.9" y2="191.5" stroke="#f23645" stroke-width="0.75"/>
<rect x="814.72" y="189.5" width="2.5" height="1.2" fill="#f23645"/>
<line x1="819.09" x2="819.09" y1="189.9" y2="194.0" stroke="#f23645" stroke-width="0.75"/>
<rect x="817.84" y="190.7" width="2.5" height="0.8" fill="#f23645"/>
<line x1="822.22" x2="822.22" y1="176.6" y2="193.5" stroke="#089981" stroke-width="0.75"/>
<rect x="820.97" y="186.9" width="2.5" height="4.7" fill="#089981"/>
<line x1="825.35" x2="825.35" y1="174.9" y2="188.2" stroke="#089981" stroke-width="0.75"/>
<rect x="824.10" y="179.1" width="2.5" height="7.8" fill="#089981"/>
<line x1="828.47" x2="828.47" y1="176.6" y2="183.2" stroke="#f23645" stroke-width="0.75"/>
<rect x="827.22" y="179.1" width="2.5" height="2.5" fill="#f23645"/>
<line x1="831.60" x2="831.60" y1="179.9" y2="193.5" stroke="#f23645" stroke-width="0.75"/>
<rect x="830.35" y="181.6" width="2.5" height="9.1" fill="#f23645"/>
<line x1="834.73" x2="834.73" y1="187.4" y2="191.5" stroke="#089981" stroke-width="0.75"/>
<rect x="833.48" y="189.5" width="2.5" height="1.2" fill="#089981"/>
<line x1="837.86" x2="837.86" y1="188.5" y2="191.2" stroke="#f23645" stroke-width="0.75"/>
<rect x="836.61" y="189.5" width="2.5" height="0.8" fill="#f23645"/>
<line x1="840.98" x2="840.98" y1="187.4" y2="197.3" stroke="#f23645" stroke-width="0.75"/>
<rect x="839.73" y="190.4" width="2.5" height="5.3" fill="#f23645"/>
<line x1="844.11" x2="844.11" y1="192.4" y2="201.2" stroke="#089981" stroke-width="0.75"/>
<rect x="842.86" y="194.5" width="2.5" height="1.2" fill="#089981"/>
<line x1="847.24" x2="847.24" y1="193.5" y2="199.0" stroke="#f23645" stroke-width="0.75"/>
<rect x="845.99" y="194.5" width="2.5" height="3.3" fill="#f23645"/>
<line x1="850.36" x2="850.36" y1="186.2" y2="199.0" stroke="#089981" stroke-width="0.75"/>
<rect x="849.11" y="194.0" width="2.5" height="3.8" fill="#089981"/>
<line x1="853.49" x2="853.49" y1="177.8" y2="195.2" stroke="#089981" stroke-width="0.75"/>
<rect x="852.24" y="183.1" width="2.5" height="10.9" fill="#089981"/>
<line x1="856.62" x2="856.62" y1="179.5" y2="186.9" stroke="#f23645" stroke-width="0.75"/>
<rect x="855.37" y="183.1" width="2.5" height="2.7" fill="#f23645"/>
<line x1="859.74" x2="859.74" y1="183.6" y2="186.4" stroke="#089981" stroke-width="0.75"/>
<rect x="858.49" y="184.4" width="2.5" height="1.3" fill="#089981"/>
<line x1="862.87" x2="862.87" y1="165.3" y2="185.3" stroke="#089981" stroke-width="0.75"/>
<rect x="861.62" y="166.5" width="2.5" height="17.9" fill="#089981"/>
<line x1="866.00" x2="866.00" y1="157.0" y2="176.5" stroke="#f23645" stroke-width="0.75"/>
<rect x="864.75" y="166.5" width="2.5" height="8.8" fill="#f23645"/>
<line x1="869.12" x2="869.12" y1="174.5" y2="179.8" stroke="#f23645" stroke-width="0.75"/>
<rect x="867.88" y="175.3" width="2.5" height="1.2" fill="#f23645"/>
<line x1="872.25" x2="872.25" y1="169.2" y2="179.1" stroke="#089981" stroke-width="0.75"/>
<rect x="871.00" y="170.3" width="2.5" height="6.1" fill="#089981"/>
<line x1="875.38" x2="875.38" y1="165.3" y2="177.0" stroke="#f23645" stroke-width="0.75"/>
<rect x="874.13" y="170.3" width="2.5" height="5.8" fill="#f23645"/>
<line x1="878.51" x2="878.51" y1="162.0" y2="179.5" stroke="#089981" stroke-width="0.75"/>
<rect x="877.26" y="167.0" width="2.5" height="9.1" fill="#089981"/>
<line x1="881.63" x2="881.63" y1="165.3" y2="167.8" stroke="#089981" stroke-width="0.75"/>
<rect x="880.38" y="166.7" width="2.5" height="0.8" fill="#089981"/>
<line x1="884.76" x2="884.76" y1="165.3" y2="169.8" stroke="#f23645" stroke-width="0.75"/>
<rect x="883.51" y="166.7" width="2.5" height="1.2" fill="#f23645"/>
<line x1="887.89" x2="887.89" y1="167.0" y2="178.6" stroke="#f23645" stroke-width="0.75"/>
<rect x="886.64" y="167.8" width="2.5" height="5.8" fill="#f23645"/>
<line x1="891.01" x2="891.01" y1="171.2" y2="177.0" stroke="#f23645" stroke-width="0.75"/>
<rect x="889.76" y="173.6" width="2.5" height="2.5" fill="#f23645"/>
<line x1="894.14" x2="894.14" y1="175.3" y2="190.3" stroke="#f23645" stroke-width="0.75"/>
<rect x="892.89" y="176.1" width="2.5" height="9.6" fill="#f23645"/>
<line x1="897.27" x2="897.27" y1="184.4" y2="188.6" stroke="#f23645" stroke-width="0.75"/>
<rect x="896.02" y="185.8" width="2.5" height="1.7" fill="#f23645"/>
<line x1="900.39" x2="900.39" y1="181.1" y2="187.8" stroke="#089981" stroke-width="0.75"/>
<rect x="899.14" y="185.3" width="2.5" height="2.2" fill="#089981"/>
<line x1="903.52" x2="903.52" y1="183.6" y2="186.1" stroke="#089981" stroke-width="0.75"/>
<rect x="902.27" y="184.4" width="2.5" height="0.8" fill="#089981"/>
<line x1="906.65" x2="906.65" y1="178.6" y2="186.1" stroke="#089981" stroke-width="0.75"/>
<rect x="905.40" y="180.3" width="2.5" height="4.2" fill="#089981"/>
<line x1="909.78" x2="909.78" y1="133.3" y2="181.1" stroke="#089981" stroke-width="0.75"/>
<rect x="908.53" y="157.9" width="2.5" height="22.4" fill="#089981"/>
<line x1="912.90" x2="912.90" y1="156.5" y2="165.3" stroke="#f23645" stroke-width="0.75"/>
<rect x="911.65" y="157.9" width="2.5" height="2.5" fill="#f23645"/>
<line x1="916.03" x2="916.03" y1="151.2" y2="163.7" stroke="#f23645" stroke-width="0.75"/>
<rect x="914.78" y="160.4" width="2.5" height="1.2" fill="#f23645"/>
<line x1="919.16" x2="919.16" y1="152.1" y2="163.7" stroke="#089981" stroke-width="0.75"/>
<rect x="917.91" y="154.9" width="2.5" height="6.6" fill="#089981"/>
<line x1="922.28" x2="922.28" y1="132.1" y2="156.2" stroke="#089981" stroke-width="0.75"/>
<rect x="921.03" y="139.6" width="2.5" height="15.3" fill="#089981"/>
<line x1="925.41" x2="925.41" y1="129.3" y2="142.6" stroke="#089981" stroke-width="0.75"/>
<rect x="924.16" y="136.3" width="2.5" height="3.3" fill="#089981"/>
<line x1="928.54" x2="928.54" y1="130.5" y2="139.6" stroke="#089981" stroke-width="0.75"/>
<rect x="927.29" y="134.9" width="2.5" height="1.3" fill="#089981"/>
<line x1="931.66" x2="931.66" y1="64.8" y2="136.3" stroke="#089981" stroke-width="0.75"/>
<rect x="930.41" y="91.1" width="2.5" height="43.8" fill="#089981"/>
<line x1="934.79" x2="934.79" y1="62.2" y2="93.3" stroke="#089981" stroke-width="0.75"/>
<rect x="933.54" y="79.4" width="2.5" height="11.7" fill="#089981"/>
<line x1="937.92" x2="937.92" y1="73.3" y2="82.4" stroke="#089981" stroke-width="0.75"/>
<rect x="936.67" y="74.5" width="2.5" height="4.9" fill="#089981"/>
</g>
<rect x="933.3" y="68.7" width="80.7" height="12" rx="1.5" fill="#089981"/>
<rect x="970" y="157.8" width="44" height="12" rx="1.5" fill="#0b8a0b"/>
<rect x="970" y="169.8" width="44" height="12" rx="1.5" fill="#ff0f0f"/>
<rect x="970" y="431.9" width="22.6" height="12" rx="1.5" fill="#26a69a"/>
<rect x="972.5" y="22" width="41.5" height="18" rx="3" fill="#fff" stroke="#e0e3eb" stroke-width="1"/>
<circle cx="937.6" cy="417.0" r="6.9" fill="#fff" stroke="#9c27b0" stroke-width="1.15"/>
<path d="M940.1 413.3 L934.5 417.9 L937.3 417.6 L935.2 421.1 L940.7 416.2 L937.9 416.5 Z" fill="#9c27b0" stroke="#9c27b0" stroke-width="0.3" stroke-linejoin="round"/>
<defs>
<clipPath id="fc2"><circle cx="943.3" cy="434.6" r="5.5"/></clipPath>
<clipPath id="fc1"><circle cx="940.0" cy="434.6" r="5.5"/></clipPath>
<clipPath id="fc0"><circle cx="936.7" cy="434.6" r="5.5"/></clipPath>
</defs>
<circle cx="943.3" cy="434.6" r="6.3" fill="#fff" stroke="#f23645" stroke-width="1.3"/>
<g clip-path="url(#fc2)">
<rect x="936.3" y="429.90" width="14" height="1.2" fill="#f45b66"/>
<rect x="936.3" y="431.95" width="14" height="1.2" fill="#f45b66"/>
<rect x="936.3" y="434.00" width="14" height="1.2" fill="#f45b66"/>
<rect x="936.3" y="436.05" width="14" height="1.2" fill="#f45b66"/>
<rect x="936.3" y="438.10" width="14" height="1.2" fill="#f45b66"/>
</g>
<circle cx="940.0" cy="434.6" r="6.3" fill="#fff" stroke="#f23645" stroke-width="1.3"/>
<g clip-path="url(#fc1)">
<rect x="933.0" y="429.90" width="14" height="1.2" fill="#f45b66"/>
<rect x="933.0" y="431.95" width="14" height="1.2" fill="#f45b66"/>
<rect x="933.0" y="434.00" width="14" height="1.2" fill="#f45b66"/>
<rect x="933.0" y="436.05" width="14" height="1.2" fill="#f45b66"/>
<rect x="933.0" y="438.10" width="14" height="1.2" fill="#f45b66"/>
</g>
<circle cx="936.7" cy="434.6" r="6.3" fill="#fff" stroke="#f23645" stroke-width="1.3"/>
<g clip-path="url(#fc0)">
<rect x="929.7" y="429.90" width="14" height="1.2" fill="#f45b66"/>
<rect x="929.7" y="431.95" width="14" height="1.2" fill="#f45b66"/>
<rect x="929.7" y="434.00" width="14" height="1.2" fill="#f45b66"/>
<rect x="929.7" y="436.05" width="14" height="1.2" fill="#f45b66"/>
<rect x="929.7" y="438.10" width="14" height="1.2" fill="#f45b66"/>
<rect x="929.7" y="428" width="8.3" height="7.9" fill="#3d8ef0"/>
<rect x="932.6" y="430.6" width="0.7" height="0.7" fill="#cfe2fb"/>
<rect x="934.4" y="430.6" width="0.7" height="0.7" fill="#cfe2fb"/>
<rect x="936.2" y="430.6" width="0.7" height="0.7" fill="#cfe2fb"/>
<rect x="932.6" y="432.4" width="0.7" height="0.7" fill="#cfe2fb"/>
<rect x="934.4" y="432.4" width="0.7" height="0.7" fill="#cfe2fb"/>
<rect x="936.2" y="432.4" width="0.7" height="0.7" fill="#cfe2fb"/>
<rect x="932.6" y="434.2" width="0.7" height="0.7" fill="#cfe2fb"/>
<rect x="934.4" y="434.2" width="0.7" height="0.7" fill="#cfe2fb"/>
<rect x="936.2" y="434.2" width="0.7" height="0.7" fill="#cfe2fb"/>
</g>
<g fill="#131722"><path d="M7 473 h6.2 v6.7 h-3.1 v-3.6 h-3.1 z"/><circle cx="15.2" cy="474.5" r="1.5"/><path d="M17.2 473 h3.6 l-2.8 6.7 h-3.6 z"/></g>
</svg>
<div class="t" id="t1" style="left:7.7px;top:6.60px;font-size:8.6px;color:#2a2e39;letter-spacing:-0.080px;">BarbaraDistefano publicado en TradingView.com, Oct 25, 2023 13:08 UTC+2</div>
<div class="t" id="t2" style="left:13.3px;top:26.10px;font-size:8.4px;color:#2a2e39;letter-spacing:-0.030px;">Bitcoin/Dólar estadounidense, 1D, BINANCE</div>
<div class="t" id="t3" style="left:184.5px;top:26.10px;font-size:8.4px;color:#2a2e39;letter-spacing:-0.144px;">O<span style="color:#089981">33939.39</span></div>
<div class="t" id="t4" style="left:230.1px;top:26.10px;font-size:8.4px;color:#2a2e39;letter-spacing:-0.175px;">H<span style="color:#089981">34392.98</span></div>
<div class="t" id="t5" style="left:275.5px;top:26.10px;font-size:8.4px;color:#2a2e39;letter-spacing:-0.098px;">L<span style="color:#089981">33711.80</span></div>
<div class="t" id="t6" style="left:319.2px;top:26.10px;font-size:8.4px;color:#2a2e39;letter-spacing:-0.250px;">C<span style="color:#089981">34313.33</span></div>
<div class="t" id="t7" style="left:363.8px;top:26.10px;font-size:8.4px;color:#089981;letter-spacing:-0.163px;">+378.26 (+1.11%)</div>
<div class="t" id="t8" style="left:13.3px;top:38.10px;font-size:8.4px;color:#2a2e39;letter-spacing:-0.108px;">Vol. · BTC</div>
<div class="t" id="t9" style="left:56.3px;top:38.10px;font-size:8.4px;color:#26a69a;letter-spacing:0.000px;transform:scaleX(0.9225);transform-origin:0 50%;">165</div>
<div class="t" id="t10" style="left:13.3px;top:50.20px;font-size:8.4px;color:#2a2e39;letter-spacing:-0.122px;">Golden SMA 50 200 (close)</div>
<div class="t" id="t11" style="left:118.6px;top:50.20px;font-size:8.4px;color:#ff1a1a;letter-spacing:-0.148px;">27550.09</div>
<div class="t" id="t12" style="left:158.3px;top:50.20px;font-size:8.4px;color:#138a13;letter-spacing:-0.205px;">28229.16</div>
<div class="t" id="t13" style="left:976px;top:48.40px;font-size:8.4px;color:#2a2e39;letter-spacing:-0.105px;">36000.00</div>
<div class="t" id="t14" style="left:976px;top:74.48px;font-size:8.4px;color:#2a2e39;letter-spacing:-0.105px;">34000.00</div>
<div class="t" id="t15" style="left:976px;top:102.14px;font-size:8.4px;color:#2a2e39;letter-spacing:-0.105px;">32000.00</div>
<div class="t" id="t16" style="left:976px;top:131.59px;font-size:8.4px;color:#2a2e39;letter-spacing:-0.105px;">30000.00</div>
<div class="t" id="t17" style="left:976px;top:196.89px;font-size:8.4px;color:#2a2e39;letter-spacing:-0.105px;">26000.00</div>
<div class="t" id="t18" style="left:976px;top:233.41px;font-size:8.4px;color:#2a2e39;letter-spacing:-0.105px;">24000.00</div>
<div class="t" id="t19" style="left:976px;top:262.86px;font-size:8.4px;color:#2a2e39;letter-spacing:-0.105px;">22500.00</div>
<div class="t" id="t20" style="left:976px;top:287.87px;font-size:8.4px;color:#2a2e39;letter-spacing:-0.105px;">21300.00</div>
<div class="t" id="t21" style="left:976px;top:314.33px;font-size:8.4px;color:#2a2e39;letter-spacing:-0.105px;">20100.00</div>
<div class="t" id="t22" style="left:976px;top:337.62px;font-size:8.4px;color:#2a2e39;letter-spacing:-0.105px;">19100.00</div>
<div class="t" id="t23" style="left:976px;top:362.16px;font-size:8.4px;color:#2a2e39;letter-spacing:-0.105px;">18100.00</div>
<div class="t" id="t24" style="left:976px;top:388.09px;font-size:8.4px;color:#2a2e39;letter-spacing:-0.105px;">17100.00</div>
<div class="t" id="t25" style="left:976px;top:409.95px;font-size:8.4px;color:#2a2e39;letter-spacing:-0.105px;">16300.00</div>
<div class="t" id="t26" style="left:976px;top:432.91px;font-size:8.4px;color:#2a2e39;letter-spacing:-0.105px;">15500.00</div>
<div class="t" id="t27" style="left:105.6px;top:450.30px;font-size:8.4px;color:#2a2e39;transform:translateX(-50%);">Feb</div>
<div class="t" id="t28" style="left:193.2px;top:450.30px;font-size:8.4px;color:#2a2e39;transform:translateX(-50%);">Mar</div>
<div class="t" id="t29" style="left:290.1px;top:450.30px;font-size:8.4px;color:#2a2e39;transform:translateX(-50%);">Abr</div>
<div class="t" id="t30" style="left:383.9px;top:450.30px;font-size:8.4px;color:#2a2e39;transform:translateX(-50%);">Mayo</div>
<div class="t" id="t31" style="left:480.9px;top:450.30px;font-size:8.4px;color:#2a2e39;transform:translateX(-50%);">Jun</div>
<div class="t" id="t32" style="left:574.7px;top:450.30px;font-size:8.4px;color:#2a2e39;transform:translateX(-50%);">Jul</div>
<div class="t" id="t33" style="left:671.6px;top:450.30px;font-size:8.4px;color:#2a2e39;transform:translateX(-50%);">Ago</div>
<div class="t" id="t34" style="left:768.6px;top:450.30px;font-size:8.4px;color:#2a2e39;transform:translateX(-50%);">Sep</div>
<div class="t" id="t35" style="left:862.4px;top:450.30px;font-size:8.4px;color:#2a2e39;transform:translateX(-50%);">Oct</div>
<div class="t" id="t36" style="left:959.3px;top:450.30px;font-size:8.4px;color:#2a2e39;transform:translateX(-50%);">Nov</div>
<div style="position:absolute;left:8px;top:446px;width:40px;height:16px;overflow:hidden">
<div class="t" id="t37" style="left:-9.0px;top:4.20px;font-size:8.6px;color:#2a2e39;font-weight:bold;letter-spacing:0.092px;">2023</div>
</div>
<div class="t" id="t38" style="left:979.3px;top:27.10px;font-size:8.4px;color:#2a2e39;letter-spacing:0.000px;transform:scaleX(0.8198);transform-origin:0 50%;">USD</div>
<div class="t" id="t39" style="left:24.8px;top:472.20px;font-size:9.6px;color:#40444f;letter-spacing:0.000px;transform:scaleX(0.9205);transform-origin:0 50%;">TradingView</div>
<svg width="1024" height="489" viewBox="0 0 1024 489" style="position:absolute;left:0;top:0">
<rect x="933.3" y="68.7" width="80.7" height="12" rx="1.5" fill="#089981"/>
<rect x="970" y="157.8" width="44" height="12" rx="1.5" fill="#0b8a0b"/>
<rect x="970" y="169.8" width="44" height="12" rx="1.5" fill="#ff0f0f"/>
<rect x="970" y="431.9" width="22.6" height="12" rx="1.5" fill="#26a69a"/>
</svg>
<div class="t" id="t40" style="left:937.3px;top:70.80px;font-size:8.4px;color:#fff;letter-spacing:0.000px;transform:scaleX(0.8508);transform-origin:0 50%;">BTCUSD</div>
<div class="t" id="t41" style="left:976px;top:70.80px;font-size:8.4px;color:#fff;letter-spacing:-0.105px;">34313.33</div>
<div class="t" id="t42" style="left:976px;top:159.90px;font-size:8.4px;color:#fff;letter-spacing:-0.105px;">28229.16</div>
<div class="t" id="t43" style="left:976px;top:171.90px;font-size:8.4px;color:#fff;letter-spacing:-0.105px;">27550.09</div>
<div class="t" id="t44" style="left:976.5px;top:434.00px;font-size:8.4px;color:#fff;letter-spacing:0.000px;transform:scaleX(0.9368);transform-origin:0 50%;">165</div>
</body></html>
